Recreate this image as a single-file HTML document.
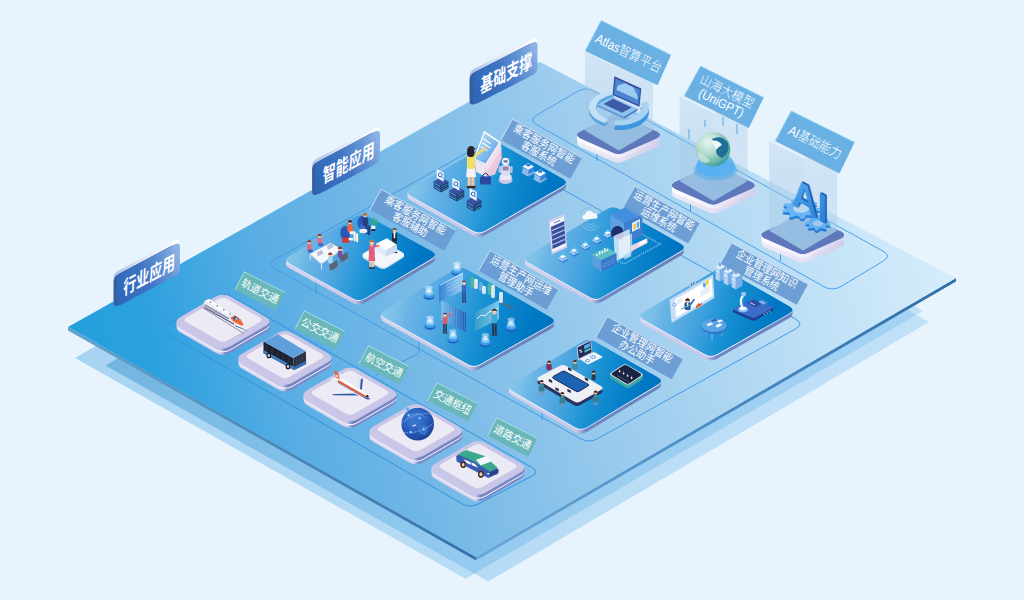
<!DOCTYPE html>
<html lang="zh"><head><meta charset="utf-8"><title>智能应用架构</title>
<style>
html,body{margin:0;padding:0;background:#e7f3fd;}
body{width:1024px;height:600px;overflow:hidden;font-family:"Liberation Sans","Noto Sans CJK SC",sans-serif;}
svg{display:block}
text{font-family:"Liberation Sans","Noto Sans CJK SC",sans-serif;}
</style></head><body>
<svg width="1024" height="600" viewBox="0 0 1024 600">
<defs>

<linearGradient id="gPlat" gradientUnits="userSpaceOnUse" x1="68" y1="380" x2="956" y2="180">
 <stop offset="0" stop-color="#22a0dc"/>
 <stop offset="0.10" stop-color="#2ca1de"/>
 <stop offset="0.23" stop-color="#58ade4"/>
 <stop offset="0.39" stop-color="#78bae7"/>
 <stop offset="0.60" stop-color="#9ecdee"/>
 <stop offset="0.68" stop-color="#aad4f1"/>
 <stop offset="0.89" stop-color="#cbe7f9"/>
 <stop offset="1" stop-color="#d9eefb"/>
</linearGradient>
<linearGradient id="gShadow" gradientUnits="userSpaceOnUse" x1="68" y1="0" x2="956" y2="0">
 <stop offset="0" stop-color="#3a9ee0" stop-opacity="0.37"/>
 <stop offset="0.46" stop-color="#3a9ee0" stop-opacity="0.27"/>
 <stop offset="1" stop-color="#4aa8e8" stop-opacity="0.24"/>
</linearGradient>
<linearGradient id="gShadowB" gradientUnits="userSpaceOnUse" x1="68" y1="0" x2="956" y2="0">
 <stop offset="0" stop-color="#3c94cc" stop-opacity="0.52"/>
 <stop offset="0.46" stop-color="#3a9ee0" stop-opacity="0.28"/>
 <stop offset="1" stop-color="#4aa8e8" stop-opacity="0.24"/>
</linearGradient>
<linearGradient id="gEdge" gradientUnits="userSpaceOnUse" x1="68" y1="0" x2="476" y2="0">
 <stop offset="0" stop-color="#64a2cc"/>
 <stop offset="1" stop-color="#3672aa"/>
</linearGradient>
<linearGradient id="gEdgeR" gradientUnits="userSpaceOnUse" x1="476" y1="0" x2="956" y2="0">
 <stop offset="0" stop-color="#68a8d8"/>
 <stop offset="0.5" stop-color="#4a8cc4"/>
 <stop offset="1" stop-color="#2f6fa8"/>
</linearGradient>
<linearGradient id="gTile" gradientUnits="objectBoundingBox" x1="0" y1="0.5" x2="1" y2="0.5">
 <stop offset="0" stop-color="#6db6ea"/>
 <stop offset="0.45" stop-color="#2f8bd8"/>
 <stop offset="1" stop-color="#0668c2"/>
</linearGradient>
<linearGradient id="gTileSide" gradientUnits="objectBoundingBox" x1="0" y1="0.5" x2="1" y2="0.5">
 <stop offset="0" stop-color="#dcdbf5"/>
 <stop offset="0.46" stop-color="#cbc9ee"/>
 <stop offset="0.54" stop-color="#aaa8df"/>
 <stop offset="1" stop-color="#9d9ad6"/>
</linearGradient>
<linearGradient id="gSec" gradientUnits="objectBoundingBox" x1="0" y1="1" x2="1" y2="0">
 <stop offset="0" stop-color="#3566b8"/>
 <stop offset="0.6" stop-color="#4178c8"/>
 <stop offset="1" stop-color="#6c9ce0"/>
</linearGradient>
<linearGradient id="gGlass" gradientUnits="objectBoundingBox" x1="0" y1="0" x2="0" y2="1">
 <stop offset="0" stop-color="#bfe0f8" stop-opacity="0.15"/>
 <stop offset="0.5" stop-color="#a8d2f2" stop-opacity="0.45"/>
 <stop offset="1" stop-color="#8cc0ec" stop-opacity="0.65"/>
</linearGradient>

<linearGradient id="gIS1" gradientUnits="objectBoundingBox" x1="0" y1="0.5" x2="1" y2="0.5">
 <stop offset="0" stop-color="#dcd9f2"/><stop offset="0.475" stop-color="#d6d3ee"/><stop offset="0.525" stop-color="#7a88c6"/><stop offset="1" stop-color="#7c8ac8"/></linearGradient>
<linearGradient id="gIS2" gradientUnits="objectBoundingBox" x1="0" y1="0.5" x2="1" y2="0.5">
 <stop offset="0" stop-color="#cdcaea"/><stop offset="0.475" stop-color="#c9c6e8"/><stop offset="0.525" stop-color="#7585c4"/><stop offset="1" stop-color="#7787c6"/></linearGradient>
<radialGradient id="gEarth" cx="0.4" cy="0.35" r="0.75"><stop offset="0" stop-color="#3f7fd8"/><stop offset="0.6" stop-color="#2458b4"/><stop offset="1" stop-color="#163c8c"/></radialGradient>
<linearGradient id="gT" gradientUnits="objectBoundingBox" x1="0" y1="0.42" x2="1" y2="0.58"><stop offset="0" stop-color="#86c7eb"/><stop offset="0.09" stop-color="#7bc0e8"/><stop offset="0.16" stop-color="#6ab4e6"/><stop offset="0.3" stop-color="#55aae2"/><stop offset="0.43" stop-color="#3a9fdc"/><stop offset="0.56" stop-color="#1a92d4"/><stop offset="0.65" stop-color="#1089ce"/><stop offset="0.87" stop-color="#0078c4"/><stop offset="1" stop-color="#0072c0"/></linearGradient>
<linearGradient id="gTS0" gradientUnits="objectBoundingBox" x1="0" y1="0.5" x2="1" y2="0.5"><stop offset="0" stop-color="#d6d3ee"/><stop offset="0.460" stop-color="#c9c6e8"/><stop offset="0.520" stop-color="#7088c2"/><stop offset="1" stop-color="#6880bc"/></linearGradient>
<linearGradient id="gTS1" gradientUnits="objectBoundingBox" x1="0" y1="0.5" x2="1" y2="0.5"><stop offset="0" stop-color="#d6d3ee"/><stop offset="0.421" stop-color="#c9c6e8"/><stop offset="0.481" stop-color="#7088c2"/><stop offset="1" stop-color="#6880bc"/></linearGradient>
<linearGradient id="gTS2" gradientUnits="objectBoundingBox" x1="0" y1="0.5" x2="1" y2="0.5"><stop offset="0" stop-color="#d6d3ee"/><stop offset="0.508" stop-color="#c9c6e8"/><stop offset="0.568" stop-color="#7088c2"/><stop offset="1" stop-color="#6880bc"/></linearGradient>
<linearGradient id="gTS3" gradientUnits="objectBoundingBox" x1="0" y1="0.5" x2="1" y2="0.5"><stop offset="0" stop-color="#d6d3ee"/><stop offset="0.417" stop-color="#c9c6e8"/><stop offset="0.477" stop-color="#7088c2"/><stop offset="1" stop-color="#6880bc"/></linearGradient>
<linearGradient id="gTS4" gradientUnits="objectBoundingBox" x1="0" y1="0.5" x2="1" y2="0.5"><stop offset="0" stop-color="#d6d3ee"/><stop offset="0.444" stop-color="#c9c6e8"/><stop offset="0.504" stop-color="#7088c2"/><stop offset="1" stop-color="#6880bc"/></linearGradient>
<linearGradient id="gTS5" gradientUnits="objectBoundingBox" x1="0" y1="0.5" x2="1" y2="0.5"><stop offset="0" stop-color="#d6d3ee"/><stop offset="0.436" stop-color="#c9c6e8"/><stop offset="0.496" stop-color="#7088c2"/><stop offset="1" stop-color="#6880bc"/></linearGradient>
<linearGradient id="gScr" x1="0" y1="0" x2="1" y2="1"><stop offset="0" stop-color="#c4e2f9"/><stop offset="1" stop-color="#4a98e4"/></linearGradient>
<linearGradient id="gHoloA" x1="0" y1="0" x2="1" y2="0"><stop offset="0" stop-color="#2f7fd4" stop-opacity="0.9"/><stop offset="1" stop-color="#a8d8f8" stop-opacity="0.85"/></linearGradient>
<linearGradient id="gHoloB" x1="0" y1="0" x2="1" y2="0"><stop offset="0" stop-color="#7cc0f0" stop-opacity="0.85"/><stop offset="1" stop-color="#1a5ab8" stop-opacity="0.95"/></linearGradient>
<linearGradient id="gHoloC" x1="0" y1="0" x2="1" y2="0"><stop offset="0" stop-color="#3aa0c8" stop-opacity="0.9"/><stop offset="1" stop-color="#8cd0f0" stop-opacity="0.85"/></linearGradient>
<radialGradient id="gGlow"><stop offset="0" stop-color="#ffffff" stop-opacity="0.95"/><stop offset="0.6" stop-color="#e8f6ff" stop-opacity="0.6"/><stop offset="1" stop-color="#cfeaff" stop-opacity="0"/></radialGradient>
<pattern id="pDots" width="2" height="2" patternUnits="userSpaceOnUse"><rect width="2" height="2" fill="#2f7fd8"/><circle cx="1" cy="1" r="0.55" fill="#8cc8f6"/></pattern>

<linearGradient id="gPedSide2" gradientUnits="objectBoundingBox" x1="0" y1="0.5" x2="1" y2="0.5">
 <stop offset="0" stop-color="#efecf8"/>
 <stop offset="0.5" stop-color="#e6e2f3"/>
 <stop offset="1" stop-color="#d2cdea"/>
</linearGradient>
<linearGradient id="gPedSide" gradientUnits="objectBoundingBox" x1="0" y1="0.5" x2="1" y2="0.5">
 <stop offset="0" stop-color="#ffffff"/>
 <stop offset="0.5" stop-color="#f0eefa"/>
 <stop offset="1" stop-color="#d4d0ee"/>
</linearGradient>
<linearGradient id="gGlassL" gradientUnits="objectBoundingBox" x1="0" y1="0" x2="0" y2="1">
 <stop offset="0" stop-color="#a8cae8" stop-opacity="0.28"/>
 <stop offset="0.3" stop-color="#a5c8e6" stop-opacity="0.36"/>
 <stop offset="1" stop-color="#a5c8e6" stop-opacity="0.34"/>
</linearGradient>
<linearGradient id="gGlassR" gradientUnits="objectBoundingBox" x1="0" y1="0" x2="0" y2="1">
 <stop offset="0" stop-color="#a8cae8" stop-opacity="0.2"/>
 <stop offset="0.3" stop-color="#a5c8e6" stop-opacity="0.3"/>
 <stop offset="1" stop-color="#a5c8e6" stop-opacity="0.28"/>
</linearGradient>
<linearGradient id="gGlassB" gradientUnits="objectBoundingBox" x1="0" y1="0" x2="0" y2="1">
 <stop offset="0" stop-color="#a8cae8" stop-opacity="0.06"/>
 <stop offset="1" stop-color="#a5c8e6" stop-opacity="0.12"/>
</linearGradient>

<radialGradient id="gSphere" cx="0.35" cy="0.3" r="0.8">
 <stop offset="0" stop-color="#e8f4ee"/><stop offset="0.4" stop-color="#b4dccc"/><stop offset="0.75" stop-color="#68b6a6"/><stop offset="1" stop-color="#2f8a9c"/>
</radialGradient>
<linearGradient id="gAI" x1="0" y1="0" x2="1" y2="1">
 <stop offset="0" stop-color="#5ab2f0"/><stop offset="1" stop-color="#1f74d0"/>
</linearGradient>
<linearGradient id="gSecTop" gradientUnits="objectBoundingBox" x1="0" y1="0.5" x2="1" y2="0.5">
 <stop offset="0" stop-color="#a9bde6"/><stop offset="0.4" stop-color="#dbe4f6"/><stop offset="1" stop-color="#ffffff"/>
</linearGradient>
<linearGradient id="gSec2" gradientUnits="objectBoundingBox" x1="0" y1="0.6" x2="1" y2="0.4">
 <stop offset="0" stop-color="#2e66b8"/><stop offset="0.45" stop-color="#3f74c4"/><stop offset="0.8" stop-color="#6a98d8"/><stop offset="1" stop-color="#8db3e6"/>
</linearGradient>
</defs>
<rect width="1024" height="600" fill="#e7f3fd"/>
<polygon points="75.0,358.0 532.4,90.2 923.0,311.0 465.6,578.8" fill="url(#gShadow)"/>
<polygon points="105.5,365.5 546.1,105.9 929.0,322.0 488.4,581.6" fill="url(#gShadowB)"/>
<polygon points="68.0,327.0 68.0,330.4 476.0,560.4 476.0,557.0" fill="url(#gEdge)"/>
<polygon points="476.0,557.0 476.0,560.4 956.0,281.4 956.0,278.0" fill="url(#gEdgeR)"/>
<polygon points="68.0,327.0 540.0,62.0 956.0,278.0 476.0,557.0" fill="url(#gPlat)"/>
<path d="M166.9 333.5Q159.1 329.0 167.0 324.6L216.2 296.7Q224.0 292.2 231.8 296.7L532.0 467.5Q539.9 472.0 531.9 476.1L478.0 504.1Q470.0 508.2 462.2 503.8Z" fill="none" stroke="#2f93e0" stroke-width="1" opacity="1"/>
<path d="M275.4 268.9Q266.7 264.0 275.4 259.1L473.3 149.4Q482.0 144.5 490.7 149.4L795.6 319.1Q804.3 324.0 795.6 328.9L597.7 438.6Q589.0 443.5 580.3 438.6Z" fill="none" stroke="#3f9be6" stroke-width="1" opacity="1"/>
<path d="M536.9 124.9Q528.2 120.0 536.9 115.0L577.3 91.5Q586.0 86.5 594.7 91.3L883.1 251.2Q891.8 256.0 883.2 261.1L841.1 286.4Q832.5 291.5 823.8 286.6Z" fill="none" stroke="#4aa2ea" stroke-width="1" opacity="1"/>
<line x1="316" y1="277" x2="316" y2="294" stroke="#3f9be6" stroke-width="1"/>
<line x1="419" y1="340" x2="419" y2="353" stroke="#3f9be6" stroke-width="1"/>
<line x1="419" y1="353" x2="375" y2="376" stroke="#3f9be6" stroke-width="1"/>
<line x1="597" y1="150" x2="597" y2="161" stroke="#3f9be6" stroke-width="1"/>
<line x1="690.5" y1="198" x2="690.5" y2="212" stroke="#3f9be6" stroke-width="1"/>
<line x1="780.5" y1="247" x2="780.5" y2="261" stroke="#3f9be6" stroke-width="1"/>
<line x1="542" y1="412" x2="542" y2="420" stroke="#3f9be6" stroke-width="1"/>
<path d="M180.6 332.5Q172.8 328.0 180.6 323.5L215.2 303.5Q223.0 298.9 230.8 303.5L265.4 323.5Q273.2 328.0 265.4 332.5L230.8 352.5Q223.0 357.1 215.2 352.5Z M176.7 321.5 L269.3 321.5 L269.3 328.0 L176.7 328.0 Z" fill="url(#gIS1)" /><path d="M180.6 326.0Q172.8 321.5 180.6 317.0L215.2 297.0Q223.0 292.4 230.8 297.0L265.4 317.0Q273.2 321.5 265.4 326.0L230.8 346.0Q223.0 350.6 215.2 346.0Z" fill="#c9c6e8" /><path d="M180.6 329.9Q172.8 325.4 180.6 320.9L215.2 300.9Q223.0 296.3 230.8 300.9L265.4 320.9Q273.2 325.4 265.4 329.9L230.8 349.9Q223.0 354.4 215.2 349.9Z" fill="#f8f8fe"/><path d="M180.6 328.9Q172.8 324.4 180.6 319.9L215.2 299.9Q223.0 295.3 230.8 299.9L265.4 319.9Q273.2 324.4 265.4 328.9L230.8 348.9Q223.0 353.4 215.2 348.9Z M176.7 321.5 L269.3 321.5 L269.3 324.4 L176.7 324.4 Z" fill="url(#gIS2)" /><path d="M180.6 326.0Q172.8 321.5 180.6 317.0L215.2 297.0Q223.0 292.4 230.8 297.0L265.4 317.0Q273.2 321.5 265.4 326.0L230.8 346.0Q223.0 350.6 215.2 346.0Z" fill="#c9c6e8" /><path d="M186.7 322.3Q182.3 319.8 186.7 317.3L218.7 299.0Q223.0 296.6 227.3 299.0L259.3 317.3Q263.6 319.8 259.3 322.3L227.3 340.6Q223.0 343.1 218.7 340.6Z" fill="#eceaf4"/>
<path d="M242.6 369.0Q234.8 364.5 242.6 360.0L277.2 340.0Q285.0 335.4 292.8 340.0L327.4 360.0Q335.2 364.5 327.4 369.0L292.8 389.0Q285.0 393.6 277.2 389.0Z M238.7 358.0 L331.3 358.0 L331.3 364.5 L238.7 364.5 Z" fill="url(#gIS1)" /><path d="M242.6 362.5Q234.8 358.0 242.6 353.5L277.2 333.5Q285.0 328.9 292.8 333.5L327.4 353.5Q335.2 358.0 327.4 362.5L292.8 382.5Q285.0 387.1 277.2 382.5Z" fill="#c9c6e8" /><path d="M242.6 366.4Q234.8 361.9 242.6 357.4L277.2 337.4Q285.0 332.8 292.8 337.4L327.4 357.4Q335.2 361.9 327.4 366.4L292.8 386.4Q285.0 390.9 277.2 386.4Z" fill="#f8f8fe"/><path d="M242.6 365.4Q234.8 360.9 242.6 356.4L277.2 336.4Q285.0 331.8 292.8 336.4L327.4 356.4Q335.2 360.9 327.4 365.4L292.8 385.4Q285.0 389.9 277.2 385.4Z M238.7 358.0 L331.3 358.0 L331.3 360.9 L238.7 360.9 Z" fill="url(#gIS2)" /><path d="M242.6 362.5Q234.8 358.0 242.6 353.5L277.2 333.5Q285.0 328.9 292.8 333.5L327.4 353.5Q335.2 358.0 327.4 362.5L292.8 382.5Q285.0 387.1 277.2 382.5Z" fill="#c9c6e8" /><path d="M248.7 358.8Q244.3 356.3 248.7 353.8L280.7 335.5Q285.0 333.1 289.3 335.5L321.3 353.8Q325.6 356.3 321.3 358.8L289.3 377.1Q285.0 379.6 280.7 377.1Z" fill="#eceaf4"/>
<path d="M307.6 405.5Q299.8 401.0 307.6 396.5L342.2 376.5Q350.0 371.9 357.8 376.5L392.4 396.5Q400.2 401.0 392.4 405.5L357.8 425.5Q350.0 430.1 342.2 425.5Z M303.7 394.5 L396.3 394.5 L396.3 401.0 L303.7 401.0 Z" fill="url(#gIS1)" /><path d="M307.6 399.0Q299.8 394.5 307.6 390.0L342.2 370.0Q350.0 365.4 357.8 370.0L392.4 390.0Q400.2 394.5 392.4 399.0L357.8 419.0Q350.0 423.6 342.2 419.0Z" fill="#c9c6e8" /><path d="M307.6 402.9Q299.8 398.4 307.6 393.9L342.2 373.9Q350.0 369.3 357.8 373.9L392.4 393.9Q400.2 398.4 392.4 402.9L357.8 422.9Q350.0 427.4 342.2 422.9Z" fill="#f8f8fe"/><path d="M307.6 401.9Q299.8 397.4 307.6 392.9L342.2 372.9Q350.0 368.3 357.8 372.9L392.4 392.9Q400.2 397.4 392.4 401.9L357.8 421.9Q350.0 426.4 342.2 421.9Z M303.7 394.5 L396.3 394.5 L396.3 397.4 L303.7 397.4 Z" fill="url(#gIS2)" /><path d="M307.6 399.0Q299.8 394.5 307.6 390.0L342.2 370.0Q350.0 365.4 357.8 370.0L392.4 390.0Q400.2 394.5 392.4 399.0L357.8 419.0Q350.0 423.6 342.2 419.0Z" fill="#c9c6e8" /><path d="M313.7 395.3Q309.4 392.8 313.7 390.3L345.7 372.0Q350.0 369.6 354.3 372.0L386.3 390.3Q390.6 392.8 386.3 395.3L354.3 413.6Q350.0 416.1 345.7 413.6Z" fill="#eceaf4"/>
<path d="M373.6 442.0Q365.8 437.5 373.6 433.0L408.2 413.0Q416.0 408.4 423.8 413.0L458.4 433.0Q466.2 437.5 458.4 442.0L423.8 462.0Q416.0 466.6 408.2 462.0Z M369.7 431.0 L462.3 431.0 L462.3 437.5 L369.7 437.5 Z" fill="url(#gIS1)" /><path d="M373.6 435.5Q365.8 431.0 373.6 426.5L408.2 406.5Q416.0 401.9 423.8 406.5L458.4 426.5Q466.2 431.0 458.4 435.5L423.8 455.5Q416.0 460.1 408.2 455.5Z" fill="#c9c6e8" /><path d="M373.6 439.4Q365.8 434.9 373.6 430.4L408.2 410.4Q416.0 405.8 423.8 410.4L458.4 430.4Q466.2 434.9 458.4 439.4L423.8 459.4Q416.0 463.9 408.2 459.4Z" fill="#f8f8fe"/><path d="M373.6 438.4Q365.8 433.9 373.6 429.4L408.2 409.4Q416.0 404.8 423.8 409.4L458.4 429.4Q466.2 433.9 458.4 438.4L423.8 458.4Q416.0 462.9 408.2 458.4Z M369.7 431.0 L462.3 431.0 L462.3 433.9 L369.7 433.9 Z" fill="url(#gIS2)" /><path d="M373.6 435.5Q365.8 431.0 373.6 426.5L408.2 406.5Q416.0 401.9 423.8 406.5L458.4 426.5Q466.2 431.0 458.4 435.5L423.8 455.5Q416.0 460.1 408.2 455.5Z" fill="#c9c6e8" /><path d="M379.7 431.8Q375.4 429.3 379.7 426.8L411.7 408.5Q416.0 406.1 420.3 408.5L452.3 426.8Q456.6 429.3 452.3 431.8L420.3 450.1Q416.0 452.6 411.7 450.1Z" fill="#eceaf4"/>
<path d="M435.6 479.0Q427.8 474.5 435.6 470.0L470.2 450.0Q478.0 445.4 485.8 450.0L520.4 470.0Q528.2 474.5 520.4 479.0L485.8 499.0Q478.0 503.6 470.2 499.0Z M431.7 468.0 L524.3 468.0 L524.3 474.5 L431.7 474.5 Z" fill="url(#gIS1)" /><path d="M435.6 472.5Q427.8 468.0 435.6 463.5L470.2 443.5Q478.0 438.9 485.8 443.5L520.4 463.5Q528.2 468.0 520.4 472.5L485.8 492.5Q478.0 497.1 470.2 492.5Z" fill="#c9c6e8" /><path d="M435.6 476.4Q427.8 471.9 435.6 467.4L470.2 447.4Q478.0 442.8 485.8 447.4L520.4 467.4Q528.2 471.9 520.4 476.4L485.8 496.4Q478.0 500.9 470.2 496.4Z" fill="#f8f8fe"/><path d="M435.6 475.4Q427.8 470.9 435.6 466.4L470.2 446.4Q478.0 441.8 485.8 446.4L520.4 466.4Q528.2 470.9 520.4 475.4L485.8 495.4Q478.0 499.9 470.2 495.4Z M431.7 468.0 L524.3 468.0 L524.3 470.9 L431.7 470.9 Z" fill="url(#gIS2)" /><path d="M435.6 472.5Q427.8 468.0 435.6 463.5L470.2 443.5Q478.0 438.9 485.8 443.5L520.4 463.5Q528.2 468.0 520.4 472.5L485.8 492.5Q478.0 497.1 470.2 492.5Z" fill="#c9c6e8" /><path d="M441.7 468.8Q437.4 466.3 441.7 463.8L473.7 445.5Q478.0 443.1 482.3 445.5L514.3 463.8Q518.6 466.3 514.3 468.8L482.3 487.1Q478.0 489.6 473.7 487.1Z" fill="#eceaf4"/>
<line x1="202.9" y1="307.9" x2="244.2" y2="333.8" stroke="#8f93a2" stroke-width="1.0" /><line x1="205.2" y1="306.7" x2="247.3" y2="331.4" stroke="#8f93a2" stroke-width="1.0" /><polygon points="203.8,302.5 205.7,300.0 209.6,299.0 232.5,314.0 240.0,319.0 243.8,324.0 244.8,327.5 241.8,329.2 235.0,326.7 204.0,308.0" fill="#e6e9f0" /><polygon points="205.2,300.7 209.3,299.2 232.1,314.2 227.9,316.0" fill="#fbfcfe" /><line x1="204.8" y1="304.8" x2="228.8" y2="318.8" stroke="#6f8fba" stroke-width="1.5" /><line x1="204.3" y1="306.5" x2="235.0" y2="324.8" stroke="#e0603a" stroke-width="0.9" /><line x1="204.2" y1="307.6" x2="241.7" y2="328.5" stroke="#2a4e9c" stroke-width="0.9" /><polygon points="230.4,317.7 234.8,315.2 240.4,319.2 243.5,324.2 241.7,326.0 234.0,322.2" fill="#ee6a3a" /><polygon points="232.7,318.0 235.5,316.2 238.7,318.8 236.7,320.7" fill="#274f9e" /><polygon points="234.8,318.5 236.5,317.5 238.0,319.2 236.5,320.2" fill="#8fd0ea" /><polygon points="234.0,322.3 241.7,326.0 244.8,327.5 241.8,329.2 234.2,325.0" fill="#f4f5f9" /><line x1="235.0" y1="325.7" x2="242.9" y2="328.8" stroke="#2a4e9c" stroke-width="0.8" /><rect x="209.7" y="301.7" width="1.4" height="1.2" rx="0" fill="#5e6478"/><rect x="216.6" y="305.4" width="1.4" height="1.2" rx="0" fill="#5e6478"/><rect x="223.1" y="309.2" width="1.4" height="1.2" rx="0" fill="#5e6478"/><rect x="229.3" y="313.4" width="1.4" height="1.2" rx="0" fill="#5e6478"/>
<polygon points="263.5,341.5 293.3,358.1 294.0,370.1 263.5,353.2" fill="#1c2230" /><polygon points="293.3,358.1 305.9,351.3 306.1,364.1 294.0,370.1" fill="#2a3246" /><polygon points="263.5,341.5 277.6,334.3 305.9,351.3 293.3,358.1" fill="#5f9fdc" /><polygon points="263.5,350.0 294.0,366.7 294.0,370.1 263.5,353.2" fill="#3f7fc4" /><polygon points="294.0,366.7 306.1,360.7 306.1,364.1 294.0,370.1" fill="#356cb0" /><line x1="266.5" y1="344.9" x2="266.5" y2="350.4" stroke="#3a4458" stroke-width="0.7" /><line x1="272.0" y1="347.9" x2="272.0" y2="353.4" stroke="#3a4458" stroke-width="0.7" /><line x1="277.4" y1="350.9" x2="277.4" y2="356.4" stroke="#3a4458" stroke-width="0.7" /><line x1="282.9" y1="353.9" x2="282.9" y2="359.4" stroke="#3a4458" stroke-width="0.7" /><line x1="288.4" y1="356.9" x2="288.4" y2="362.4" stroke="#3a4458" stroke-width="0.7" /><ellipse cx="268.8" cy="355.4" rx="2.3" ry="2.9" fill="#15181f"/><ellipse cx="268.8" cy="355.4" rx="1.2" ry="1.6" fill="#c8ccd8"/><ellipse cx="288.0" cy="366.4" rx="2.3" ry="2.9" fill="#15181f"/><ellipse cx="288.0" cy="366.4" rx="1.2" ry="1.6" fill="#c8ccd8"/><circle cx="296.5" cy="358.8" r="0.4" fill="#6a7288"/><circle cx="296.5" cy="360.5" r="0.4" fill="#6a7288"/><circle cx="296.5" cy="362.2" r="0.4" fill="#6a7288"/><circle cx="296.5" cy="363.9" r="0.4" fill="#6a7288"/><circle cx="299.5" cy="357.3" r="0.4" fill="#6a7288"/><circle cx="299.5" cy="359.0" r="0.4" fill="#6a7288"/><circle cx="299.5" cy="360.7" r="0.4" fill="#6a7288"/><circle cx="299.5" cy="362.4" r="0.4" fill="#6a7288"/><circle cx="302.5" cy="355.8" r="0.4" fill="#6a7288"/><circle cx="302.5" cy="357.5" r="0.4" fill="#6a7288"/><circle cx="302.5" cy="359.2" r="0.4" fill="#6a7288"/><circle cx="302.5" cy="360.9" r="0.4" fill="#6a7288"/>
<polygon points="332.1,394.2 352.5,393.2 358.8,395.5 333.3,395.2" fill="#2f57a8" /><polygon points="337.5,380.8 340.4,381.7 369.2,397.9 370.0,399.6 366.7,399.3 338.3,382.9" fill="#2f57a8" /><polygon points="331.0,391.5 343.3,389.8 353.8,391.5 352.9,393.5 332.5,393.0" fill="#eef0f6" /><polygon points="356.0,384.8 359.3,375.7 362.2,377.5 360.5,389.3" fill="#e4e7f0" /><polygon points="360.8,379.2 363.0,378.6 361.8,389.7 360.0,389.3" fill="#2f57a8" /><polygon points="330.2,378.8 335.8,377.3 337.7,380.2 331.7,381.0" fill="#eef0f6" /><polygon points="334.8,375.4 338.3,376.2 364.2,391.7 368.5,395.7 367.9,397.7 364.2,397.1 337.5,381.7" fill="#fafbfd" /><polygon points="337.5,380.5 338.8,380.2 365.0,395.2 366.5,397.1 364.2,397.1 337.5,381.7" fill="#ec5a34" /><polygon points="334.0,370.5 337.7,372.3 339.8,379.3 335.7,377.5" fill="#ee5a32" /><polygon points="335.3,374.3 337.5,375.3 338.3,377.5 336.2,376.7" fill="#fbe4da" /><polygon points="339.8,373.3 341.7,374.2 342.1,378.8 340.4,378.3" fill="#e4e7f0" /><circle cx="367.3" cy="396.2" r="1.2" fill="#1a1e2a"/>
<circle cx="417.7" cy="424.1" r="16.3" fill="url(#gEarth)"/><path d="M408.7 421.1 q4 -5 9 -3 q3 3 0 7 q-3 4 -7 2 q-4 -2 -2 -6Z" fill="#3a74cc" opacity="0.9"/><path d="M419.7 425.1 q5 -2 8 2 q1 5 -3 8 q-5 0 -6 -4 q-1 -4 1 -6Z" fill="#3a74cc" opacity="0.9"/><ellipse cx="417.7" cy="423.1" rx="19" ry="8" fill="none" stroke="#e8f2ff" stroke-width="0.6" stroke-dasharray="1.4 1.2" opacity="0.85" transform="rotate(-18 417.7 424.1)"/><path d="M408.7 417.1 q8 -7 18 1" fill="none" stroke="#e8f2ff" stroke-width="0.6" stroke-dasharray="1.4 1.2" opacity="0.85"/><circle cx="408.7" cy="415.1" r="1.6" fill="#4a9cf0"/><circle cx="408.7" cy="415.1" r="0.7" fill="#ffffff"/><circle cx="419.7" cy="418.1" r="1.6" fill="#4a9cf0"/><circle cx="419.7" cy="418.1" r="0.7" fill="#ffffff"/><circle cx="423.7" cy="429.1" r="1.6" fill="#4a9cf0"/><circle cx="423.7" cy="429.1" r="0.7" fill="#ffffff"/><circle cx="410.7" cy="432.1" r="1.6" fill="#4a9cf0"/><circle cx="410.7" cy="432.1" r="0.7" fill="#ffffff"/><path d="M412.7 425.6 l3.6 -1.4 l-1 1.6 l-2.8 0.8Z" fill="#ffffff"/><path d="M406.7 410.6 a1.7 1.7 0 1 1 2 0 l-1 2 Z" fill="#5ab0f4"/>
<ellipse cx="463.2" cy="464.2" rx="2.7" ry="3.2" fill="#4a2a20"/><ellipse cx="463.2" cy="464.2" rx="1.4" ry="1.8" fill="#e8d8b8"/><ellipse cx="480.9" cy="474.2" rx="2.7" ry="3.2" fill="#4a2a20"/><ellipse cx="480.9" cy="474.2" rx="1.4" ry="1.8" fill="#e8d8b8"/><path d="M456.2 456.0 L463.2 451.4 L486.5 460.2 L498.6 469.6 L498.1 473.8 L488.3 477.9 L456.6 461.6 Z" fill="#3a5cb0"/><path d="M457.6 454.4 L466.0 450.0 L484.6 456.0 L497.7 467.7 L490.0 471.4 L472.5 460.7 Z" fill="#3aa88c"/><polygon points="476.0,459.8 486.5,456.0 491.1,461.6 480.7,465.4" fill="#f4f8fc" /><polygon points="463.2,459.1 474.8,463.7 478.3,467.7 466.7,463.0" fill="#f4f8fc" /><line x1="470.6" y1="461.6" x2="471.8" y2="466.1" stroke="#3a5cb0" stroke-width="0.8" /><polygon points="489.3,472.8 498.1,469.1 498.4,472.4 489.5,476.1" fill="#2a3e80" /><ellipse cx="488.3" cy="473.8" rx="1.2" ry="0.8" fill="#ffffff"/><ellipse cx="463.2" cy="464.8" rx="2.7" ry="3.2" fill="#4a2a20"/><ellipse cx="463.2" cy="464.8" rx="1.4" ry="1.8" fill="#e8d8b8"/><ellipse cx="480.9" cy="474.2" rx="2.9" ry="3.4" fill="#4a2a20"/><ellipse cx="480.9" cy="474.2" rx="1.5" ry="1.9" fill="#e8d8b8"/>
<g transform="translate(260.0 291.2) rotate(27.0)"><rect x="-22.8" y="-10.2" width="45.6" height="20.3" fill="#69b7b8" fill-opacity="1"/><path d="M-22.8 10.2 L-22.8 -10.2 L22.8 -10.2" fill="none" stroke="#a8dede" stroke-width="0.9"/><text x="0" y="4.0" text-anchor="middle" font-size="11" font-weight="400" fill="#fff" textLength="40.5" lengthAdjust="spacingAndGlyphs">轨道交通</text></g>
<g transform="translate(320.0 330.2) rotate(27.0)"><rect x="-22.8" y="-10.2" width="45.6" height="20.3" fill="#69b7b8" fill-opacity="1"/><path d="M-22.8 10.2 L-22.8 -10.2 L22.8 -10.2" fill="none" stroke="#a8dede" stroke-width="0.9"/><text x="0" y="4.0" text-anchor="middle" font-size="11" font-weight="400" fill="#fff" textLength="40.5" lengthAdjust="spacingAndGlyphs">公交交通</text></g>
<g transform="translate(384.0 365.2) rotate(27.0)"><rect x="-22.8" y="-10.2" width="45.6" height="20.3" fill="#69b7b8" fill-opacity="1"/><path d="M-22.8 10.2 L-22.8 -10.2 L22.8 -10.2" fill="none" stroke="#a8dede" stroke-width="0.9"/><text x="0" y="4.0" text-anchor="middle" font-size="11" font-weight="400" fill="#fff" textLength="40.5" lengthAdjust="spacingAndGlyphs">航空交通</text></g>
<g transform="translate(452.5 402.2) rotate(27.0)"><rect x="-22.8" y="-10.2" width="45.6" height="20.3" fill="#69b7b8" fill-opacity="1"/><path d="M-22.8 10.2 L-22.8 -10.2 L22.8 -10.2" fill="none" stroke="#a8dede" stroke-width="0.9"/><text x="0" y="4.0" text-anchor="middle" font-size="11" font-weight="400" fill="#fff" textLength="40.5" lengthAdjust="spacingAndGlyphs">交通枢纽</text></g>
<g transform="translate(512.5 437.2) rotate(27.0)"><rect x="-22.8" y="-10.2" width="45.6" height="20.3" fill="#69b7b8" fill-opacity="1"/><path d="M-22.8 10.2 L-22.8 -10.2 L22.8 -10.2" fill="none" stroke="#a8dede" stroke-width="0.9"/><text x="0" y="4.0" text-anchor="middle" font-size="11" font-weight="400" fill="#fff" textLength="40.5" lengthAdjust="spacingAndGlyphs">道路交通</text></g>
<path d="M289.1 267.9Q283.0 264.5 289.0 260.9L356.0 221.3Q362.0 217.8 368.1 221.1L431.9 256.1Q438.0 259.5 432.0 263.1L365.0 302.7Q359.0 306.2 352.9 302.9Z M286.0 260.0 L435.0 255.0 L435.0 259.5 L286.0 264.5 Z" fill="url(#gTS0)" /><path d="M289.1 263.4Q283.0 260.0 289.0 256.4L356.0 216.8Q362.0 213.2 368.1 216.6L431.9 251.6Q438.0 255.0 432.0 258.6L365.0 298.2Q359.0 301.8 352.9 298.4Z" fill="url(#gT)" /><path d="M289.1 264.3Q283.0 260.9 289.0 257.3L356.0 217.7Q362.0 214.2 368.1 217.5L431.9 252.5Q438.0 255.9 432.0 259.5L365.0 299.1Q359.0 302.6 352.9 299.3Z" fill="#f2f3fc"/><path d="M289.1 263.4Q283.0 260.0 289.0 256.4L356.0 216.8Q362.0 213.2 368.1 216.6L431.9 251.6Q438.0 255.0 432.0 258.6L365.0 298.2Q359.0 301.8 352.9 298.4Z" fill="url(#gT)"/>
<path d="M410.6 200.4Q404.5 197.0 410.6 193.5L488.4 148.7Q494.5 145.2 500.6 148.7L562.9 183.6Q569.0 187.0 562.9 190.5L485.1 235.3Q479.0 238.8 472.9 235.3Z M407.5 192.5 L566.0 182.5 L566.0 187.0 L407.5 197.0 Z" fill="url(#gTS1)" /><path d="M410.6 195.9Q404.5 192.5 410.6 189.0L488.4 144.2Q494.5 140.8 500.6 144.2L562.9 179.1Q569.0 182.5 562.9 186.0L485.1 230.8Q479.0 234.2 472.9 230.8Z" fill="url(#gT)" /><path d="M410.6 196.8Q404.5 193.4 410.6 189.9L488.4 145.1Q494.5 141.7 500.6 145.1L562.9 180.0Q569.0 183.4 562.9 186.9L485.1 231.7Q479.0 235.2 472.9 231.7Z" fill="#f2f3fc"/><path d="M410.6 195.9Q404.5 192.5 410.6 189.0L488.4 144.2Q494.5 140.8 500.6 144.2L562.9 179.1Q569.0 182.5 562.9 186.0L485.1 230.8Q479.0 234.2 472.9 230.8Z" fill="url(#gT)"/>
<path d="M384.1 321.9Q378.0 318.5 384.1 315.0L454.9 274.2Q461.0 270.8 467.1 274.2L550.9 322.0Q557.0 325.5 550.9 328.9L480.1 368.8Q474.0 372.2 467.9 368.8Z M381.0 314.0 L554.0 321.0 L554.0 325.5 L381.0 318.5 Z" fill="url(#gTS2)" /><path d="M384.1 317.4Q378.0 314.0 384.1 310.5L454.9 269.7Q461.0 266.2 467.1 269.7L550.9 317.5Q557.0 321.0 550.9 324.4L480.1 364.3Q474.0 367.8 467.9 364.3Z" fill="url(#gT)" /><path d="M384.1 318.3Q378.0 314.9 384.1 311.4L454.9 270.6Q461.0 267.1 467.1 270.6L550.9 318.4Q557.0 321.9 550.9 325.3L480.1 365.2Q474.0 368.6 467.9 365.2Z" fill="#f2f3fc"/><path d="M384.1 317.4Q378.0 314.0 384.1 310.5L454.9 269.7Q461.0 266.2 467.1 269.7L550.9 317.5Q557.0 321.0 550.9 324.4L480.1 364.3Q474.0 367.8 467.9 364.3Z" fill="url(#gT)"/>
<path d="M528.1 266.9Q522.0 263.5 528.0 260.0L607.0 213.8Q613.0 210.2 619.1 213.7L680.9 248.6Q687.0 252.0 681.0 255.5L602.0 301.7Q596.0 305.2 589.9 301.8Z M525.0 259.0 L684.0 247.5 L684.0 252.0 L525.0 263.5 Z" fill="url(#gTS3)" /><path d="M528.1 262.4Q522.0 259.0 528.0 255.5L607.0 209.3Q613.0 205.8 619.1 209.2L680.9 244.1Q687.0 247.5 681.0 251.0L602.0 297.2Q596.0 300.8 589.9 297.3Z" fill="url(#gT)" /><path d="M528.1 263.3Q522.0 259.9 528.0 256.4L607.0 210.2Q613.0 206.7 619.1 210.1L680.9 245.0Q687.0 248.4 681.0 251.9L602.0 298.1Q596.0 301.6 589.9 298.2Z" fill="#f2f3fc"/><path d="M528.1 262.4Q522.0 259.0 528.0 255.5L607.0 209.3Q613.0 205.8 619.1 209.2L680.9 244.1Q687.0 247.5 681.0 251.0L602.0 297.2Q596.0 300.8 589.9 297.3Z" fill="url(#gT)"/>
<path d="M512.1 395.5Q506.0 392.0 512.0 388.4L583.0 346.3Q589.0 342.8 595.1 346.2L657.9 382.0Q664.0 385.5 658.0 389.1L587.0 431.7Q581.0 435.2 574.9 431.8Z M509.0 387.5 L661.0 381.0 L661.0 385.5 L509.0 392.0 Z" fill="url(#gTS4)" /><path d="M512.1 391.0Q506.0 387.5 512.0 383.9L583.0 341.8Q589.0 338.2 595.1 341.7L657.9 377.5Q664.0 381.0 658.0 384.6L587.0 427.2Q581.0 430.8 574.9 427.3Z" fill="url(#gT)" /><path d="M512.1 391.9Q506.0 388.4 512.0 384.8L583.0 342.7Q589.0 339.1 595.1 342.6L657.9 378.4Q664.0 381.9 658.0 385.5L587.0 428.1Q581.0 431.6 574.9 428.2Z" fill="#f2f3fc"/><path d="M512.1 391.0Q506.0 387.5 512.0 383.9L583.0 341.8Q589.0 338.2 595.1 341.7L657.9 377.5Q664.0 381.0 658.0 384.6L587.0 427.2Q581.0 430.8 574.9 427.3Z" fill="url(#gT)"/>
<path d="M643.1 323.9Q637.0 320.5 643.0 317.0L714.9 275.3Q721.0 271.8 727.1 275.2L789.4 311.0Q795.5 314.5 789.4 317.9L717.1 358.8Q711.0 362.2 704.9 358.8Z M640.0 316.0 L792.5 310.0 L792.5 314.5 L640.0 320.5 Z" fill="url(#gTS5)" /><path d="M643.1 319.4Q637.0 316.0 643.0 312.5L714.9 270.8Q721.0 267.2 727.1 270.7L789.4 306.5Q795.5 310.0 789.4 313.4L717.1 354.3Q711.0 357.8 704.9 354.3Z" fill="url(#gT)" /><path d="M643.1 320.3Q637.0 316.9 643.0 313.4L714.9 271.7Q721.0 268.1 727.1 271.6L789.4 307.4Q795.5 310.9 789.4 314.3L717.1 355.2Q711.0 358.6 704.9 355.2Z" fill="#f2f3fc"/><path d="M643.1 319.4Q637.0 316.0 643.0 312.5L714.9 270.8Q721.0 267.2 727.1 270.7L789.4 306.5Q795.5 310.0 789.4 313.4L717.1 354.3Q711.0 357.8 704.9 354.3Z" fill="url(#gT)"/>
<path d="M364.6 259.2Q360.3 256.6 364.7 254.1L379.0 246.1Q383.3 243.6 387.7 246.0L401.9 253.6Q406.3 255.9 402.1 258.6L387.6 267.6Q383.3 270.3 379.0 267.7Z" fill="#cfdcf0"/><path d="M364.6 257.6Q360.3 255.0 364.7 252.5L379.0 244.5Q383.3 242.0 387.7 244.4L401.9 252.0Q406.3 254.3 402.1 257.0L387.6 266.0Q383.3 268.7 379.0 266.1Z" fill="#f3f7fd"/><rect x="392.3" y="240.9" width="1.9" height="11.2" rx="0.75" fill="#26283a"/><rect x="394.8" y="240.9" width="1.9" height="11.2" rx="0.75" fill="#26283a"/><ellipse cx="393.3" cy="252.4" rx="1.5" ry="0.8" fill="#3a3a4a"/><ellipse cx="396.0" cy="252.4" rx="1.5" ry="0.8" fill="#3a3a4a"/><rect x="392.0" y="232.7" width="5.0" height="9.0" rx="1.5" fill="#26283a"/><rect x="393.5" y="231.4" width="1.9" height="2.1" rx="0" fill="#f3c6a5"/><circle cx="394.5" cy="230.1" r="2.1" fill="#f3c6a5"/><path d="M392.1 230.5 A2.4 2.5 0 0 1 396.9 230.5 Q394.5 228.6 392.1 230.5 Z" fill="#4a2a22"/><rect x="393.7" y="232.2" width="1.6" height="6.0" rx="0" fill="#ffffff"/><polygon points="375.8,243.7 387.0,238.3 397.0,244.7 385.5,250.0" fill="#ffffff" /><polygon points="375.8,243.7 385.5,250.0 385.5,257.0 375.8,250.3" fill="#e3ebf7" /><polygon points="385.5,250.0 397.0,244.7 397.0,251.3 385.5,257.0" fill="#cfdbee" /><rect x="369.4" y="254.7" width="2.2" height="13.1" rx="0.87" fill="#f0c8b0"/><rect x="372.1" y="254.7" width="2.2" height="13.1" rx="0.87" fill="#f0c8b0"/><ellipse cx="370.4" cy="268.0" rx="1.7" ry="1.0" fill="#3a3a4a"/><ellipse cx="373.5" cy="268.0" rx="1.7" ry="1.0" fill="#3a3a4a"/><path d="M369.2 252.4 L374.4 252.4 L375.3 261.1 L368.4 261.1 Z" fill="#e0607c"/><rect x="368.9" y="245.1" width="5.8" height="10.4" rx="1.74" fill="#e0607c"/><path d="M373.9 246.6 L378.9 245.6" stroke="#e0607c" stroke-width="1.9" stroke-linecap="round"/><circle cx="378.9" cy="245.6" r="1.0" fill="#f3c6a5"/><rect x="370.7" y="243.7" width="2.2" height="2.5" rx="0" fill="#f3c6a5"/><circle cx="371.8" cy="242.2" r="2.5" fill="#f3c6a5"/><path d="M369.1 242.7 A2.8 3.0 0 0 1 374.6 242.7 Q371.8 240.4 369.1 242.7 Z" fill="#7a3826"/><polygon points="310.0,253.8 330.3,243.0 342.5,249.3 321.3,263.7" fill="#f4f7fc" /><polygon points="310.0,253.8 321.3,263.7 321.3,264.7 310.0,254.8" fill="#c9d4e8" /><polygon points="321.3,263.7 342.5,249.3 342.5,250.3 321.3,264.7" fill="#b4c2dc" /><line x1="310.3" y1="254.7" x2="310.3" y2="259.7" stroke="#e8eef8" stroke-width="0.9" /><line x1="321.5" y1="264.3" x2="321.5" y2="269.3" stroke="#e8eef8" stroke-width="0.9" /><line x1="342.2" y1="250.0" x2="342.2" y2="255.0" stroke="#e8eef8" stroke-width="0.9" /><polygon points="316.7,252.5 322.0,249.7 323.3,253.7 318.0,256.3" fill="#b8c2d4" /><polygon points="326.7,245.8 332.5,242.7 333.7,246.7 328.0,250.0" fill="#b8c2d4" /><rect x="307.1" y="244.0" width="4.6" height="7.0" rx="1.8" fill="#e8688a"/><rect x="307.8" y="249.5" width="5.0" height="3.0" rx="1" fill="#3a6ac0"/><circle cx="309.3" cy="242.0" r="2.0" fill="#f3c6a5"/><path d="M307.1 242.2 a2.2 2.3 0 0 1 4.4 0 Z" fill="#8a3a28"/><rect x="317.5" y="237.8" width="4.6" height="7.0" rx="1.8" fill="#e8688a"/><rect x="318.2" y="243.3" width="5.0" height="3.0" rx="1" fill="#3a6ac0"/><circle cx="319.7" cy="235.8" r="2.0" fill="#f3c6a5"/><path d="M317.5 236.0 a2.2 2.3 0 0 1 4.4 0 Z" fill="#8a3a28"/><polygon points="329.2,264.7 337.2,260.0 337.8,266.7 330.2,271.3" fill="#5a6478" /><line x1="331.2" y1="269.3" x2="331.2" y2="274.3" stroke="#8a94a8" stroke-width="0.8" /><line x1="337.2" y1="266.3" x2="337.2" y2="272.3" stroke="#8a94a8" stroke-width="0.8" /><polygon points="339.5,256.3 347.5,251.7 348.2,258.3 340.5,263.0" fill="#5a6478" /><line x1="341.5" y1="261.0" x2="341.5" y2="266.0" stroke="#8a94a8" stroke-width="0.8" /><line x1="347.5" y1="258.0" x2="347.5" y2="264.0" stroke="#8a94a8" stroke-width="0.8" /><rect x="328.1" y="256.0" width="4.6" height="7.5" rx="1.8" fill="#a8d4ee"/><circle cx="330.3" cy="254.5" r="2.0" fill="#f3c6a5"/><path d="M328.1 254.7 a2.2 2.3 0 0 1 4.4 0 Z" fill="#8a3a28"/><rect x="337.8" y="250.2" width="4.6" height="7.5" rx="1.8" fill="#7a4aa0"/><circle cx="340.0" cy="248.7" r="2.0" fill="#f3c6a5"/><path d="M337.8 248.9 a2.2 2.3 0 0 1 4.4 0 Z" fill="#8a3a28"/><ellipse cx="363.0" cy="222.7" rx="5.5" ry="7.0" fill="#2a58b8"/><ellipse cx="364.5" cy="226.7" rx="5.0" ry="3.5" fill="#3a6ad0"/><rect x="362.7" y="217.3" width="5.0" height="9.0" rx="2" fill="#26407e"/><rect x="365.5" y="224.3" width="2.2" height="10.0" rx="1" fill="#26407e"/><rect x="368.0" y="225.3" width="2.2" height="10.0" rx="1" fill="#26407e"/><circle cx="365.0" cy="215.3" r="2.1" fill="#f3c6a5"/><path d="M362.7 215.5 a2.3 2.4 0 0 1 4.6 0 Z" fill="#b85a2a"/><ellipse cx="363.3" cy="231.0" rx="4.0" ry="2.2" fill="#f2f6fc"/><ellipse cx="363.3" cy="232.0" rx="1.2" ry="0.8" fill="#c4d0e4"/><rect x="371.3" y="225.3" width="4.0" height="4.5" rx="0.8" fill="#f0f2f8"/><rect x="371.3" y="228.9" width="4.0" height="2.2" rx="0.5" fill="#2a2e40"/><path d="M372.8 225.8 q-3 -5 -2.5 -8 q2 3 2.5 6 q0 -5 1.5 -8 q1 4 0 8 q2 -4 3.5 -5 q-0.5 4 -3 7 Z" fill="#3aa86a"/><ellipse cx="345.3" cy="233.0" rx="5.0" ry="7.0" fill="#2a58b8"/><rect x="347.4" y="224.2" width="5.6" height="8.0" rx="2.2" fill="#f0683a"/><rect x="349.5" y="231.2" width="6.0" height="3.0" rx="1.2" fill="#f4f0ec"/><rect x="353.5" y="232.2" width="2.2" height="9.0" rx="1" fill="#f4f0ec"/><rect x="356.0" y="233.2" width="2.2" height="9.0" rx="1" fill="#f4f0ec"/><circle cx="350.0" cy="222.2" r="2.1" fill="#f3c6a5"/><path d="M347.7 222.4 a2.3 2.4 0 0 1 4.6 0 Z" fill="#2a2a3a"/><rect x="342.3" y="237.8" width="7.5" height="5.0" rx="1.2" fill="#d23a3a"/><path d="M344.0 237.8 q1.5 -3.5 4 0" fill="none" stroke="#8a2020" stroke-width="0.8"/><ellipse cx="350.8" cy="239.2" rx="2.5" ry="1.4" fill="#f2f6fc"/>
<polygon points="474.3,159.9 485.1,165.6 486.2,177.1 476.3,172.1" fill="#efe6f2" /><polygon points="485.1,165.6 500.8,142.6 501.9,157.6 495.0,174.4 486.2,177.1" fill="#e9c9dc" /><polygon points="485.1,165.6 500.8,142.6 501.4,149.9 485.7,172.9" fill="#f3dfea" /><polygon points="473.6,159.5 484.1,130.7 500.8,142.2 485.5,165.6" fill="#ffffff" /><polygon points="475.1,158.9 484.5,133.0 498.9,142.8 485.5,163.7" fill="url(#gScr)" /><line x1="483.2" y1="138.8" x2="490.8" y2="143.8" stroke="#ffffff" stroke-width="1.3" stroke-opacity="0.9" /><line x1="482.0" y1="142.6" x2="490.4" y2="148.0" stroke="#ffffff" stroke-width="1.3" stroke-opacity="0.9" /><line x1="480.9" y1="146.5" x2="487.4" y2="150.7" stroke="#ffffff" stroke-width="1.3" stroke-opacity="0.9" /><rect x="467.6" y="167.7" width="3.1" height="18.9" rx="1.26" fill="#f3c6a5"/><rect x="471.4" y="167.7" width="3.1" height="18.9" rx="1.26" fill="#f3c6a5"/><ellipse cx="469.2" cy="187.2" rx="2.5" ry="1.4" fill="#3a2a2a"/><ellipse cx="473.3" cy="187.2" rx="2.5" ry="1.4" fill="#3a2a2a"/><path d="M467.3 164.4 L474.9 164.4 L476.1 177.0 L466.1 177.0 Z" fill="#f4f2f6"/><rect x="466.9" y="153.9" width="8.4" height="15.1" rx="2.52" fill="#f0de6a"/><path d="M474.0 156.0 L485.0 148.5" stroke="#f0de6a" stroke-width="2.7" stroke-linecap="round"/><circle cx="485.0" cy="148.5" r="1.5" fill="#f3c6a5"/><rect x="469.5" y="151.7" width="3.2" height="3.6" rx="0" fill="#f3c6a5"/><circle cx="471.1" cy="149.6" r="3.6" fill="#f3c6a5"/><path d="M467.1 150.3 A4.0 4.3 0 0 1 475.1 150.3 Q471.1 147.1 467.1 150.3 Z" fill="#23232e"/><rect x="467.1" y="148.5" width="7.2" height="8.5" rx="3" fill="#23232e"/><rect x="480.0" y="176.6" width="11.0" height="8.0" rx="1.5" fill="#27489c"/><path d="M482.3 176.6 q3 -7 6.5 0" fill="none" stroke="#1f3a80" stroke-width="1"/><ellipse cx="505.6" cy="180.0" rx="7.0" ry="4.0" fill="#c9c8e6"/><rect x="499.6" y="174.0" width="12.0" height="6.0" rx="3" fill="#e8e8f6"/><rect x="501.1" y="165.0" width="9.0" height="10.5" rx="2.5" fill="#dcdcf0"/><rect x="502.6" y="166.5" width="6.0" height="4.0" rx="1" fill="#8a8cb8"/><rect x="498.6" y="166.0" width="2.4" height="7.0" rx="1.2" fill="#c4c4e0"/><rect x="510.2" y="166.0" width="2.4" height="7.0" rx="1.2" fill="#c4c4e0"/><circle cx="505.6" cy="161.5" r="3.8" fill="#eeeefa"/><rect x="503.4" y="160.2" width="4.4" height="2.2" rx="1" fill="#6a6ea8"/><polygon points="433.7,188.2 441.1,192.5 441.1,189.3 433.7,185.0" fill="#273c88" /><polygon points="441.1,192.5 448.5,188.2 448.5,185.0 441.1,189.3" fill="#1c2c6c" /><polygon points="433.7,185.0 441.1,189.3 448.5,185.0 441.1,180.8" fill="#3a52a4" /><polygon points="433.7,184.6 441.1,188.9 441.1,185.7 433.7,181.4" fill="#273c88" /><polygon points="441.1,188.9 448.5,184.6 448.5,181.4 441.1,185.7" fill="#1c2c6c" /><polygon points="433.7,181.4 441.1,185.7 448.5,181.4 441.1,177.2" fill="#3a52a4" /><line x1="434.5" y1="187.0" x2="440.3" y2="190.4" stroke="#4ac4b4" stroke-width="0.9" /><line x1="434.5" y1="183.4" x2="440.3" y2="186.8" stroke="#4ac4b4" stroke-width="0.9" /><line x1="441.9" y1="190.8" x2="447.7" y2="187.4" stroke="#3aa89c" stroke-width="0.9" /><line x1="441.9" y1="187.2" x2="447.7" y2="183.8" stroke="#3aa89c" stroke-width="0.9" /><polygon points="436.7,168.7 443.7,172.7 443.7,181.7 436.7,177.7" fill="#f4f7fd" /><circle cx="440.2" cy="174.8" r="1.9" fill="none" stroke="#2a62c4" stroke-width="1"/><line x1="441.4" y1="176.4" x2="442.8" y2="178.2" stroke="#2a62c4" stroke-width="1" /><polygon points="449.4,197.2 456.8,201.5 456.8,198.3 449.4,194.0" fill="#273c88" /><polygon points="456.8,201.5 464.2,197.2 464.2,194.0 456.8,198.3" fill="#1c2c6c" /><polygon points="449.4,194.0 456.8,198.3 464.2,194.0 456.8,189.8" fill="#3a52a4" /><polygon points="449.4,193.6 456.8,197.9 456.8,194.7 449.4,190.4" fill="#273c88" /><polygon points="456.8,197.9 464.2,193.6 464.2,190.4 456.8,194.7" fill="#1c2c6c" /><polygon points="449.4,190.4 456.8,194.7 464.2,190.4 456.8,186.2" fill="#3a52a4" /><line x1="450.2" y1="196.0" x2="456.0" y2="199.4" stroke="#4ac4b4" stroke-width="0.9" /><line x1="450.2" y1="192.4" x2="456.0" y2="195.8" stroke="#4ac4b4" stroke-width="0.9" /><line x1="457.6" y1="199.8" x2="463.4" y2="196.4" stroke="#3aa89c" stroke-width="0.9" /><line x1="457.6" y1="196.2" x2="463.4" y2="192.8" stroke="#3aa89c" stroke-width="0.9" /><polygon points="452.4,177.7 459.4,181.7 459.4,190.7 452.4,186.7" fill="#f4f7fd" /><circle cx="455.9" cy="183.8" r="1.9" fill="none" stroke="#2a62c4" stroke-width="1"/><line x1="457.1" y1="185.4" x2="458.5" y2="187.2" stroke="#2a62c4" stroke-width="1" /><polygon points="466.7,207.4 474.0,211.6 474.0,208.4 466.7,204.2" fill="#273c88" /><polygon points="474.0,211.6 481.4,207.4 481.4,204.2 474.0,208.4" fill="#1c2c6c" /><polygon points="466.7,204.2 474.0,208.4 481.4,204.2 474.0,199.9" fill="#3a52a4" /><polygon points="466.7,203.8 474.0,208.0 474.0,204.8 466.7,200.6" fill="#273c88" /><polygon points="474.0,208.0 481.4,203.8 481.4,200.6 474.0,204.8" fill="#1c2c6c" /><polygon points="466.7,200.6 474.0,204.8 481.4,200.6 474.0,196.3" fill="#3a52a4" /><line x1="467.5" y1="206.2" x2="473.3" y2="209.6" stroke="#4ac4b4" stroke-width="0.9" /><line x1="467.5" y1="202.6" x2="473.3" y2="206.0" stroke="#4ac4b4" stroke-width="0.9" /><line x1="474.9" y1="210.0" x2="480.7" y2="206.6" stroke="#3aa89c" stroke-width="0.9" /><line x1="474.9" y1="206.4" x2="480.7" y2="203.0" stroke="#3aa89c" stroke-width="0.9" /><polygon points="469.7,187.9 476.7,191.9 476.7,200.9 469.7,196.9" fill="#f4f7fd" /><circle cx="473.2" cy="194.0" r="1.9" fill="none" stroke="#2a62c4" stroke-width="1"/><line x1="474.4" y1="195.6" x2="475.8" y2="197.4" stroke="#2a62c4" stroke-width="1" /><polygon points="521.9,173.0 528.4,176.7 528.4,175.1 521.9,171.4" fill="#9cc4ec" /><polygon points="528.4,176.7 534.8,173.0 534.8,171.4 528.4,175.1" fill="#7aaee0" /><polygon points="521.9,171.4 528.4,175.1 534.8,171.4 528.4,167.6" fill="#dcecfa" /><polygon points="522.4,171.4 528.2,174.8 528.2,169.8 522.4,166.4" fill="#5a9ee4" /><polygon points="528.2,174.8 534.1,171.4 534.1,166.4 528.2,169.8" fill="#3a84d8" /><polygon points="522.4,166.4 528.2,169.8 534.1,166.4 528.2,163.0" fill="#eef6fd" /><rect x="526.4" y="163.8" width="4.0" height="2.4" rx="0.8" fill="#2a7ad8"/><line x1="522.9" y1="170.4" x2="528.2" y2="173.4" stroke="#d8ecfb" stroke-width="0.7" /><line x1="522.9" y1="168.8" x2="528.2" y2="171.8" stroke="#d8ecfb" stroke-width="0.7" /><polygon points="533.7,179.5 540.2,183.2 540.2,181.6 533.7,177.9" fill="#9cc4ec" /><polygon points="540.2,183.2 546.7,179.5 546.7,177.9 540.2,181.6" fill="#7aaee0" /><polygon points="533.7,177.9 540.2,181.6 546.7,177.9 540.2,174.1" fill="#dcecfa" /><polygon points="534.2,177.9 540.1,181.3 540.1,176.3 534.2,172.9" fill="#5a9ee4" /><polygon points="540.1,181.3 546.0,177.9 546.0,172.9 540.1,176.3" fill="#3a84d8" /><polygon points="534.2,172.9 540.1,176.3 546.0,172.9 540.1,169.5" fill="#eef6fd" /><rect x="538.2" y="170.3" width="4.0" height="2.4" rx="0.8" fill="#2a7ad8"/><line x1="534.7" y1="176.9" x2="540.0" y2="179.9" stroke="#d8ecfb" stroke-width="0.7" /><line x1="534.7" y1="175.3" x2="540.0" y2="178.3" stroke="#d8ecfb" stroke-width="0.7" />
<path d="M451.6 271.4 L451.6 273.2 A5.4 2.7 0 0 0 462.4 273.2 L462.4 271.4 A5.4 2.7 0 0 1 451.6 271.4 Z" fill="#1f5fc0"/><ellipse cx="457.0" cy="271.4" rx="5.4" ry="2.7" fill="#3a8ee0"/><path d="M452.8 269.4 L452.8 271.4 A4.2 2.1 0 0 0 461.2 271.4 L461.2 269.4 A4.2 2.1 0 0 1 452.8 269.4 Z" fill="#3f9ce8"/><ellipse cx="457.0" cy="269.4" rx="4.2" ry="2.1" fill="#7cc6f6"/><ellipse cx="457.0" cy="266.8" rx="4.4" ry="3.2" fill="url(#gGlow)"/><ellipse cx="457.0" cy="263.5" rx="3.6" ry="1.9" fill="#ffffff" fill-opacity="0.45"/><path d="M423.6 295.4 L423.6 297.2 A5.4 2.7 0 0 0 434.4 297.2 L434.4 295.4 A5.4 2.7 0 0 1 423.6 295.4 Z" fill="#1f5fc0"/><ellipse cx="429.0" cy="295.4" rx="5.4" ry="2.7" fill="#3a8ee0"/><path d="M424.8 293.4 L424.8 295.4 A4.2 2.1 0 0 0 433.2 295.4 L433.2 293.4 A4.2 2.1 0 0 1 424.8 293.4 Z" fill="#3f9ce8"/><ellipse cx="429.0" cy="293.4" rx="4.2" ry="2.1" fill="#7cc6f6"/><ellipse cx="429.0" cy="290.8" rx="4.4" ry="3.2" fill="url(#gGlow)"/><ellipse cx="429.0" cy="287.5" rx="3.6" ry="1.9" fill="#ffffff" fill-opacity="0.45"/><path d="M470.5 278.0 L470.5 287.0 A1.9 1.0 0 0 0 474.3 287.0 L474.3 278.0 A1.9 1.0 0 0 1 470.5 278.0 Z" fill="#4ab89c"/><ellipse cx="472.4" cy="278.0" rx="1.9" ry="1.0" fill="#4ab89c"/><path d="M479.1 283.0 L479.1 290.0 A1.9 1.0 0 0 0 482.9 290.0 L482.9 283.0 A1.9 1.0 0 0 1 479.1 283.0 Z" fill="#5ab0e0"/><ellipse cx="481.0" cy="283.0" rx="1.9" ry="1.0" fill="#5ab0e0"/><path d="M487.7 284.0 L487.7 294.0 A1.9 1.0 0 0 0 491.5 294.0 L491.5 284.0 A1.9 1.0 0 0 1 487.7 284.0 Z" fill="#4ab89c"/><ellipse cx="489.6" cy="284.0" rx="1.9" ry="1.0" fill="#4ab89c"/><path d="M482.1 287.0 L482.1 293.0 A1.9 1.0 0 0 0 485.9 293.0 L485.9 287.0 A1.9 1.0 0 0 1 482.1 287.0 Z" fill="#dfe6f2"/><ellipse cx="484.0" cy="287.0" rx="1.9" ry="1.0" fill="#ffffff"/><path d="M474.1 280.0 L474.1 288.0 A1.9 1.0 0 0 0 477.9 288.0 L477.9 280.0 A1.9 1.0 0 0 1 474.1 280.0 Z" fill="#dfe6f2"/><ellipse cx="476.0" cy="280.0" rx="1.9" ry="1.0" fill="#ffffff"/><path d="M491.1 286.0 L491.1 297.0 A1.9 1.0 0 0 0 494.9 297.0 L494.9 286.0 A1.9 1.0 0 0 1 491.1 286.0 Z" fill="#dfe6f2"/><ellipse cx="493.0" cy="286.0" rx="1.9" ry="1.0" fill="#ffffff"/><path d="M499.1 293.0 L499.1 302.0 A1.9 1.0 0 0 0 502.9 302.0 L502.9 293.0 A1.9 1.0 0 0 1 499.1 293.0 Z" fill="#dfe6f2"/><ellipse cx="501.0" cy="293.0" rx="1.9" ry="1.0" fill="#ffffff"/><line x1="503.0" y1="303.0" x2="513.0" y2="308.6" stroke="#8a5a4a" stroke-width="1.2" /><polygon points="439.0,284.6 463.0,272.2 463.0,290.6 439.0,302.6" fill="url(#gHoloA)" /><line x1="440.0" y1="285.0" x2="462.4" y2="273.4" stroke="#e8f6ff" stroke-width="0.8" stroke-opacity="0.9" /><line x1="447.0" y1="285.0" x2="459.0" y2="279.0" stroke="#d8efff" stroke-width="0.6" stroke-opacity="0.7" /><line x1="447.0" y1="288.2" x2="459.0" y2="282.2" stroke="#d8efff" stroke-width="0.6" stroke-opacity="0.7" /><line x1="447.0" y1="291.4" x2="459.0" y2="285.4" stroke="#d8efff" stroke-width="0.6" stroke-opacity="0.7" /><rect x="462.1" y="291.9" width="1.6" height="9.9" rx="0.66" fill="#2a4a90"/><rect x="464.3" y="291.9" width="1.6" height="9.9" rx="0.66" fill="#2a4a90"/><ellipse cx="462.9" cy="301.9" rx="1.3" ry="0.7" fill="#3a3a4a"/><ellipse cx="465.4" cy="301.9" rx="1.3" ry="0.7" fill="#3a3a4a"/><rect x="461.8" y="284.6" width="4.4" height="7.9" rx="1.3199999999999998" fill="#2f6cc0"/><path d="M465.5 285.7 L461.0 287.7" stroke="#2f6cc0" stroke-width="1.4" stroke-linecap="round"/><circle cx="461.0" cy="287.7" r="0.8" fill="#f3c6a5"/><rect x="463.2" y="283.5" width="1.7" height="1.9" rx="0" fill="#f3c6a5"/><circle cx="464.0" cy="282.4" r="1.9" fill="#f3c6a5"/><path d="M461.9 282.7 A2.1 2.2 0 0 1 466.1 282.7 Q464.0 281.0 461.9 282.7 Z" fill="#2a2a3a"/><polygon points="441.0,300.0 466.0,313.0 466.0,332.0 441.0,319.4" fill="url(#gHoloB)" /><line x1="443.6" y1="301.4" x2="443.6" y2="319.9" stroke="#bfe2fa" stroke-width="0.5" stroke-opacity="0.45" /><line x1="446.2" y1="302.8" x2="446.2" y2="321.3" stroke="#bfe2fa" stroke-width="0.5" stroke-opacity="0.45" /><line x1="448.8" y1="304.1" x2="448.8" y2="322.6" stroke="#bfe2fa" stroke-width="0.5" stroke-opacity="0.45" /><line x1="451.4" y1="305.5" x2="451.4" y2="324.0" stroke="#bfe2fa" stroke-width="0.5" stroke-opacity="0.45" /><line x1="454.0" y1="306.8" x2="454.0" y2="325.3" stroke="#bfe2fa" stroke-width="0.5" stroke-opacity="0.45" /><line x1="456.6" y1="308.2" x2="456.6" y2="326.7" stroke="#bfe2fa" stroke-width="0.5" stroke-opacity="0.45" /><line x1="459.2" y1="309.6" x2="459.2" y2="328.1" stroke="#bfe2fa" stroke-width="0.5" stroke-opacity="0.45" /><line x1="461.8" y1="310.9" x2="461.8" y2="329.4" stroke="#bfe2fa" stroke-width="0.5" stroke-opacity="0.45" /><line x1="464.4" y1="312.3" x2="464.4" y2="330.8" stroke="#bfe2fa" stroke-width="0.5" stroke-opacity="0.45" /><rect x="443.1" y="323.5" width="1.6" height="9.5" rx="0.63" fill="#2a3a5a"/><rect x="445.3" y="323.5" width="1.6" height="9.5" rx="0.63" fill="#2a3a5a"/><ellipse cx="443.9" cy="333.1" rx="1.3" ry="0.7" fill="#3a3a4a"/><ellipse cx="446.4" cy="333.1" rx="1.3" ry="0.7" fill="#3a3a4a"/><rect x="442.9" y="316.6" width="4.2" height="7.6" rx="1.26" fill="#e85a5a"/><path d="M446.5 317.6 L451.5 313.1" stroke="#e85a5a" stroke-width="1.4" stroke-linecap="round"/><circle cx="451.5" cy="313.1" r="0.7" fill="#f3c6a5"/><rect x="444.2" y="315.5" width="1.6" height="1.8" rx="0" fill="#f3c6a5"/><circle cx="445.0" cy="314.5" r="1.8" fill="#f3c6a5"/><path d="M443.0 314.8 A2.0 2.1 0 0 1 447.0 314.8 Q445.0 313.2 443.0 314.8 Z" fill="#2a2a3a"/><polygon points="475.0,312.4 499.0,300.2 499.0,319.0 475.0,331.2" fill="url(#gHoloC)" /><polyline points="477.0,319.0 481.0,315.0 485.0,316.0 490.0,311.0 494.0,312.0 498.0,307.4" fill="none" stroke="#ffffff" stroke-width="0.8"/><rect x="492.1" y="322.7" width="2.0" height="12.2" rx="0.81" fill="#26364e"/><rect x="494.7" y="322.7" width="2.0" height="12.2" rx="0.81" fill="#26364e"/><ellipse cx="493.1" cy="335.1" rx="1.6" ry="0.9" fill="#3a3a4a"/><ellipse cx="496.0" cy="335.1" rx="1.6" ry="0.9" fill="#3a3a4a"/><rect x="491.7" y="313.8" width="5.4" height="9.7" rx="1.6199999999999999" fill="#3aa8d8"/><path d="M496.3 315.1 L490.3 318.1" stroke="#3aa8d8" stroke-width="1.8" stroke-linecap="round"/><circle cx="490.3" cy="318.1" r="0.9" fill="#f3c6a5"/><rect x="493.4" y="312.4" width="2.1" height="2.3" rx="0" fill="#f3c6a5"/><circle cx="494.4" cy="311.0" r="2.3" fill="#f3c6a5"/><path d="M491.8 311.5 A2.6 2.8 0 0 1 497.0 311.5 Q494.4 309.4 491.8 311.5 Z" fill="#2a2a3a"/><path d="M424.6 325.4 L424.6 327.2 A5.4 2.7 0 0 0 435.4 327.2 L435.4 325.4 A5.4 2.7 0 0 1 424.6 325.4 Z" fill="#1f5fc0"/><ellipse cx="430.0" cy="325.4" rx="5.4" ry="2.7" fill="#3a8ee0"/><path d="M425.8 323.4 L425.8 325.4 A4.2 2.1 0 0 0 434.2 325.4 L434.2 323.4 A4.2 2.1 0 0 1 425.8 323.4 Z" fill="#3f9ce8"/><ellipse cx="430.0" cy="323.4" rx="4.2" ry="2.1" fill="#7cc6f6"/><ellipse cx="430.0" cy="320.8" rx="4.4" ry="3.2" fill="url(#gGlow)"/><ellipse cx="430.0" cy="317.5" rx="3.6" ry="1.9" fill="#ffffff" fill-opacity="0.45"/><path d="M447.6 339.0 L447.6 340.8 A5.4 2.7 0 0 0 458.4 340.8 L458.4 339.0 A5.4 2.7 0 0 1 447.6 339.0 Z" fill="#1f5fc0"/><ellipse cx="453.0" cy="339.0" rx="5.4" ry="2.7" fill="#3a8ee0"/><path d="M448.8 337.0 L448.8 339.0 A4.2 2.1 0 0 0 457.2 339.0 L457.2 337.0 A4.2 2.1 0 0 1 448.8 337.0 Z" fill="#3f9ce8"/><ellipse cx="453.0" cy="337.0" rx="4.2" ry="2.1" fill="#7cc6f6"/><ellipse cx="453.0" cy="334.4" rx="4.4" ry="3.2" fill="url(#gGlow)"/><ellipse cx="453.0" cy="331.1" rx="3.6" ry="1.9" fill="#ffffff" fill-opacity="0.45"/><path d="M480.0 342.8 L480.0 344.6 A5.4 2.7 0 0 0 490.8 344.6 L490.8 342.8 A5.4 2.7 0 0 1 480.0 342.8 Z" fill="#1f5fc0"/><ellipse cx="485.4" cy="342.8" rx="5.4" ry="2.7" fill="#3a8ee0"/><path d="M481.2 340.8 L481.2 342.8 A4.2 2.1 0 0 0 489.6 342.8 L489.6 340.8 A4.2 2.1 0 0 1 481.2 340.8 Z" fill="#3f9ce8"/><ellipse cx="485.4" cy="340.8" rx="4.2" ry="2.1" fill="#7cc6f6"/><ellipse cx="485.4" cy="338.2" rx="4.4" ry="3.2" fill="url(#gGlow)"/><ellipse cx="485.4" cy="334.9" rx="3.6" ry="1.9" fill="#ffffff" fill-opacity="0.45"/><path d="M505.6 327.4 L505.6 329.2 A5.4 2.7 0 0 0 516.4 329.2 L516.4 327.4 A5.4 2.7 0 0 1 505.6 327.4 Z" fill="#1f5fc0"/><ellipse cx="511.0" cy="327.4" rx="5.4" ry="2.7" fill="#3a8ee0"/><path d="M506.8 325.4 L506.8 327.4 A4.2 2.1 0 0 0 515.2 327.4 L515.2 325.4 A4.2 2.1 0 0 1 506.8 325.4 Z" fill="#3f9ce8"/><ellipse cx="511.0" cy="325.4" rx="4.2" ry="2.1" fill="#7cc6f6"/><ellipse cx="511.0" cy="322.8" rx="4.4" ry="3.2" fill="url(#gGlow)"/><ellipse cx="511.0" cy="319.5" rx="3.6" ry="1.9" fill="#ffffff" fill-opacity="0.45"/>
<polyline points="638.0,232.0 660.0,244.0 624.0,264.0 614.0,259.0" fill="none" stroke="#9ccdf4" stroke-width="1.6" stroke-dasharray="1.2 1.2" opacity="0.8"/><polygon points="548.6,220.6 564.4,214.0 567.2,247.4 551.6,254.6" fill="#cfcdee" /><polygon points="550.0,222.6 564.0,216.6 566.0,246.0 552.4,252.2" fill="#f2f2fb" /><polygon points="551.0,227.0 564.2,221.0 565.6,243.0 552.6,249.0" fill="#3a4e9e" /><line x1="552.0" y1="230.6" x2="564.8" y2="225.0" stroke="#c8d4f4" stroke-width="1.2" stroke-opacity="0.85" /><line x1="552.0" y1="235.4" x2="564.8" y2="229.8" stroke="#c8d4f4" stroke-width="1.2" stroke-opacity="0.85" /><line x1="552.0" y1="240.2" x2="564.8" y2="234.6" stroke="#c8d4f4" stroke-width="1.2" stroke-opacity="0.85" /><line x1="552.0" y1="245.0" x2="564.8" y2="239.4" stroke="#c8d4f4" stroke-width="1.2" stroke-opacity="0.85" /><line x1="554.0" y1="223.0" x2="560.0" y2="220.4" stroke="#5a6ab8" stroke-width="0.9" /><path d="M584.0 219.5 a2.6 2.6 0 0 1 1.2 -5 a4.2 4.2 0 0 1 8 -1.2 a3.2 3.2 0 0 1 3.4 5.2 Z" fill="#f4f9fe"/><path d="M581.0 214.0 a8 6 0 0 1 10 -6" fill="none" stroke="#7ab8ec" stroke-width="0.8"/><path d="M588.0 223.0 a3.0 1.5 0 0 0 6.0 0" fill="none" stroke="#a8d4f6" stroke-width="0.6" opacity="0.8"/><path d="M585.5 224.5 a5.5 2.8 0 0 0 11.0 0" fill="none" stroke="#a8d4f6" stroke-width="0.6" opacity="0.8"/><path d="M583.0 226.0 a8.0 4.0 0 0 0 16.0 0" fill="none" stroke="#a8d4f6" stroke-width="0.6" opacity="0.8"/><polygon points="603.0,236.5 607.8,239.2 607.8,237.4 603.0,234.7" fill="#4a8edc" /><polygon points="607.8,239.2 612.5,236.5 612.5,234.7 607.8,237.4" fill="#2f74c8" /><polygon points="603.0,234.7 607.8,237.4 612.5,234.7 607.8,231.9" fill="#bfe0f8" /><polygon points="604.6,234.8 607.7,236.6 607.7,234.4 604.6,232.6" fill="#8cc8f4" /><polygon points="607.7,236.6 610.8,234.8 610.8,232.6 607.7,234.4" fill="#5aa8ea" /><polygon points="604.6,232.6 607.7,234.4 610.8,232.6 607.7,230.8" fill="#f4faff" /><circle cx="608.0" cy="230.5" r="1.3" fill="#4ad0e8" fill-opacity="0.9"/><polygon points="592.0,242.1 596.8,244.8 596.8,243.0 592.0,240.3" fill="#4a8edc" /><polygon points="596.8,244.8 601.5,242.1 601.5,240.3 596.8,243.0" fill="#2f74c8" /><polygon points="592.0,240.3 596.8,243.0 601.5,240.3 596.8,237.5" fill="#bfe0f8" /><polygon points="593.6,240.4 596.7,242.2 596.7,240.0 593.6,238.2" fill="#8cc8f4" /><polygon points="596.7,242.2 599.8,240.4 599.8,238.2 596.7,240.0" fill="#5aa8ea" /><polygon points="593.6,238.2 596.7,240.0 599.8,238.2 596.7,236.4" fill="#f4faff" /><circle cx="597.0" cy="236.1" r="1.3" fill="#4ad0e8" fill-opacity="0.9"/><polygon points="580.6,248.1 585.4,250.8 585.4,249.0 580.6,246.3" fill="#4a8edc" /><polygon points="585.4,250.8 590.1,248.1 590.1,246.3 585.4,249.0" fill="#2f74c8" /><polygon points="580.6,246.3 585.4,249.0 590.1,246.3 585.4,243.5" fill="#bfe0f8" /><polygon points="582.2,246.4 585.3,248.2 585.3,246.0 582.2,244.2" fill="#8cc8f4" /><polygon points="585.3,248.2 588.4,246.4 588.4,244.2 585.3,246.0" fill="#5aa8ea" /><polygon points="582.2,244.2 585.3,246.0 588.4,244.2 585.3,242.4" fill="#f4faff" /><circle cx="585.6" cy="242.1" r="1.3" fill="#4ad0e8" fill-opacity="0.9"/><polygon points="569.4,254.1 574.2,256.9 574.2,255.1 569.4,252.3" fill="#4a8edc" /><polygon points="574.2,256.9 578.9,254.1 578.9,252.3 574.2,255.1" fill="#2f74c8" /><polygon points="569.4,252.3 574.2,255.1 578.9,252.3 574.2,249.5" fill="#bfe0f8" /><polygon points="571.0,252.4 574.1,254.2 574.1,252.0 571.0,250.2" fill="#8cc8f4" /><polygon points="574.1,254.2 577.2,252.4 577.2,250.2 574.1,252.0" fill="#5aa8ea" /><polygon points="571.0,250.2 574.1,252.0 577.2,250.2 574.1,248.4" fill="#f4faff" /><circle cx="574.4" cy="248.1" r="1.3" fill="#4ad0e8" fill-opacity="0.9"/><polygon points="558.2,260.3 563.0,263.1 563.0,261.2 558.2,258.5" fill="#4a8edc" /><polygon points="563.0,263.1 567.7,260.3 567.7,258.5 563.0,261.2" fill="#2f74c8" /><polygon points="558.2,258.5 563.0,261.2 567.7,258.5 563.0,255.8" fill="#bfe0f8" /><polygon points="559.8,258.6 562.9,260.4 562.9,258.2 559.8,256.4" fill="#8cc8f4" /><polygon points="562.9,260.4 566.0,258.6 566.0,256.4 562.9,258.2" fill="#5aa8ea" /><polygon points="559.8,256.4 562.9,258.2 566.0,256.4 562.9,254.6" fill="#f4faff" /><circle cx="563.2" cy="254.3" r="1.3" fill="#4ad0e8" fill-opacity="0.9"/><polygon points="610.4,214.6 624.0,223.0 624.0,243.0 610.4,235.0" fill="#5f9fe2" /><polygon points="624.0,223.0 642.4,214.0 642.4,236.0 624.0,243.0" fill="#3f7fd0" /><polygon points="610.4,214.6 628.0,206.0 642.4,214.0 624.0,223.0" fill="url(#pDots)" /><path d="M611.2 231.6 a6.2 7 0 0 1 12.4 3 l0 7.5 l-12.4 -6 Z" fill="#1c2f70"/><polygon points="632.0,223.0 640.0,219.0 640.0,228.0 632.0,232.0" fill="#e6eef8" /><polygon points="633.2,224.6 636.0,223.2 636.0,228.6 633.2,230.0" fill="#f4c84a" /><polygon points="636.8,222.6 639.2,221.4 639.2,227.0 636.8,228.2" fill="#5aa8e8" /><polygon points="613.6,236.0 629.6,229.0 630.4,255.0 614.8,261.4" fill="#e8f4fd" fill-opacity="0.78" /><polygon points="618.4,239.4 632.0,233.4 632.4,252.0 619.2,258.6" fill="#ffffff" fill-opacity="0.55" /><polygon points="630.4,246.0 647.2,238.0 647.6,243.0 631.0,251.4" fill="#f0d4e4" /><polygon points="639.0,242.6 646.4,239.0 646.6,242.0 639.2,245.8" fill="#fdf6fa" /><polygon points="624.0,255.0 631.2,251.8 631.2,256.2 624.4,259.4" fill="#b8d8f4" fill-opacity="0.9" /><polygon points="591.6,254.6 601.0,260.2 602.0,272.0 592.4,265.4" fill="#5a9ede" /><polygon points="601.0,260.2 616.4,253.0 616.8,264.0 602.0,272.0" fill="#3a78cc" /><polygon points="591.6,254.6 607.0,247.4 616.4,253.0 601.0,260.2" fill="#5ec0c4" /><line x1="597.0" y1="256.0" x2="597.0" y2="254.0" stroke="#f4fbff" stroke-width="1.4" /><line x1="599.6" y1="254.8" x2="599.6" y2="251.2" stroke="#f4fbff" stroke-width="1.4" /><line x1="602.2" y1="253.5" x2="602.2" y2="250.9" stroke="#f4fbff" stroke-width="1.4" /><line x1="604.8" y1="252.3" x2="604.8" y2="248.3" stroke="#f4fbff" stroke-width="1.4" /><line x1="607.4" y1="251.0" x2="607.4" y2="249.2" stroke="#f4fbff" stroke-width="1.4" /><circle cx="604.0" cy="264.0" r="0.5" fill="#a8d0f6"/><circle cx="604.0" cy="266.4" r="0.5" fill="#a8d0f6"/><circle cx="606.4" cy="262.9" r="0.5" fill="#a8d0f6"/><circle cx="606.4" cy="265.3" r="0.5" fill="#a8d0f6"/><circle cx="608.8" cy="261.8" r="0.5" fill="#a8d0f6"/><circle cx="608.8" cy="264.2" r="0.5" fill="#a8d0f6"/><circle cx="611.2" cy="260.6" r="0.5" fill="#a8d0f6"/><circle cx="611.2" cy="263.0" r="0.5" fill="#a8d0f6"/><circle cx="613.6" cy="259.5" r="0.5" fill="#a8d0f6"/><circle cx="613.6" cy="261.9" r="0.5" fill="#a8d0f6"/>
<polygon points="579.6,359.0 594.0,352.0 603.0,357.0 588.0,364.6" fill="#f2f7fd" /><ellipse cx="587.6" cy="360.6" rx="2.0" ry="1.2" fill="none" stroke="#3a78c8" stroke-width="1.1" stroke-dasharray="0.9 0.6"/><ellipse cx="593.0" cy="357.0" rx="2.4" ry="1.4" fill="none" stroke="#3a78c8" stroke-width="1.1" stroke-dasharray="0.9 0.6"/><polygon points="576.6,346.6 591.0,339.4 592.4,353.0 578.0,360.2" fill="#c9c9e6" /><polygon points="577.6,347.4 590.4,341.0 591.6,352.2 578.8,358.6" fill="#1f2c58" /><polygon points="584.0,345.8 590.0,342.8 590.4,346.6 584.4,349.6" fill="#5aa8e8" /><polygon points="584.4,350.6 590.4,347.6 590.6,349.8 584.6,352.8" fill="#4ac4b4" /><text x="579.6" y="352.5" font-size="4.5" font-weight="700" fill="#fff" transform="rotate(-26 580.8 351.0)">$</text><rect x="546.4" y="363.6" width="5.2" height="6.5" rx="1.5" fill="#5a3a6a"/><rect x="547.0" y="364.2" width="4.2" height="6.0" rx="1.7" fill="#8a2a5a"/><circle cx="549.0" cy="362.6" r="1.8" fill="#f0c4a4"/><path d="M547.0 362.7 a2 2.1 0 0 1 4 0 Z" fill="#5a2a2a"/><rect x="572.4" y="363.0" width="5.2" height="6.5" rx="1.5" fill="#3a8ea0"/><rect x="573.0" y="363.6" width="4.2" height="6.0" rx="1.7" fill="#3a8ea8"/><circle cx="575.0" cy="362.0" r="1.8" fill="#f0c4a4"/><path d="M573.0 362.1 a2 2.1 0 0 1 4 0 Z" fill="#3a2a2a"/><rect x="591.0" y="373.6" width="5.2" height="6.5" rx="1.5" fill="#5a8a9a"/><rect x="591.6" y="374.2" width="4.2" height="6.0" rx="1.7" fill="#2a3a5a"/><circle cx="593.6" cy="372.6" r="1.8" fill="#f0c4a4"/><path d="M591.6 372.7 a2 2.1 0 0 1 4 0 Z" fill="#3a2a2a"/><path d="M539.0 384.3Q535.6 382.2 539.1 380.3L559.5 369.5Q563.0 367.6 566.5 369.6L600.9 389.6Q604.4 391.6 600.9 393.6L580.5 405.0Q577.0 407.0 573.6 404.9Z" fill="#27345e"/><path d="M539.0 380.7Q535.6 378.6 539.1 376.7L559.5 365.9Q563.0 364.0 566.5 366.0L600.9 386.0Q604.4 388.0 600.9 390.0L580.5 401.4Q577.0 403.4 573.6 401.3Z M553.3 378.4Q551.6 377.4 553.3 376.4L561.9 371.6Q563.6 370.6 565.3 371.6L587.9 384.0Q589.6 385.0 587.9 386.0L579.3 391.2Q577.6 392.2 575.9 391.2Z" fill="#eef0f6" fill-rule="evenodd"/><path d="M553.3 378.4Q551.6 377.4 553.3 376.4L561.9 371.6Q563.6 370.6 565.3 371.6L587.9 384.0Q589.6 385.0 587.9 386.0L579.3 391.2Q577.6 392.2 575.9 391.2Z" fill="#1c63b4"/><path d="M553.3 378.4Q551.6 377.4 553.3 376.4L561.9 371.6Q563.6 370.6 565.3 371.6L587.9 384.0Q589.6 385.0 587.9 386.0L579.3 391.2Q577.6 392.2 575.9 391.2Z" fill="none" stroke="#27345e" stroke-width="1"/><polygon points="568.0,367.2 571.4,368.8 571.4,371.4 568.0,369.8" fill="#2a3248" /><polygon points="584.8,377.2 588.2,378.8 588.2,381.4 584.8,379.8" fill="#2a3248" /><polygon points="548.8,378.8 552.2,380.4 552.2,383.0 548.8,381.4" fill="#2a3248" /><polygon points="567.4,388.8 570.8,390.4 570.8,393.0 567.4,391.4" fill="#2a3248" /><polygon points="555.4,387.2 558.8,388.8 558.8,391.4 555.4,389.8" fill="#2a3248" /><rect x="539.6" y="383.6" width="4.2" height="6.0" rx="1.7" fill="#3a8ea8"/><rect x="538.6" y="386.0" width="6.0" height="5.5" rx="1.6" fill="#3a7e94"/><line x1="539.1" y1="394.5" x2="544.1" y2="392.5" stroke="#8a94a8" stroke-width="0.7" /><line x1="539.1" y1="392.5" x2="544.1" y2="394.5" stroke="#8a94a8" stroke-width="0.7" /><line x1="541.6" y1="391.0" x2="541.6" y2="393.5" stroke="#8a94a8" stroke-width="0.8" /><circle cx="541.6" cy="382.0" r="1.8" fill="#f0c4a4"/><path d="M539.6 382.1 a2 2.1 0 0 1 4 0 Z" fill="#3a2a2a"/><rect x="560.4" y="395.6" width="4.2" height="6.0" rx="1.7" fill="#3a8ea8"/><rect x="559.4" y="398.0" width="6.0" height="5.5" rx="1.6" fill="#3a7e94"/><line x1="559.9" y1="406.5" x2="564.9" y2="404.5" stroke="#8a94a8" stroke-width="0.7" /><line x1="559.9" y1="404.5" x2="564.9" y2="406.5" stroke="#8a94a8" stroke-width="0.7" /><line x1="562.4" y1="403.0" x2="562.4" y2="405.5" stroke="#8a94a8" stroke-width="0.8" /><circle cx="562.4" cy="394.0" r="1.8" fill="#f0c4a4"/><path d="M560.4 394.1 a2 2.1 0 0 1 4 0 Z" fill="#3a2a2a"/><rect x="593.6" y="394.2" width="4.2" height="6.0" rx="1.7" fill="#3a8ea8"/><rect x="592.6" y="396.6" width="6.0" height="5.5" rx="1.6" fill="#3a7e94"/><line x1="593.1" y1="405.1" x2="598.1" y2="403.1" stroke="#8a94a8" stroke-width="0.7" /><line x1="593.1" y1="403.1" x2="598.1" y2="405.1" stroke="#8a94a8" stroke-width="0.7" /><line x1="595.6" y1="401.6" x2="595.6" y2="404.1" stroke="#8a94a8" stroke-width="0.8" /><circle cx="595.6" cy="392.6" r="1.8" fill="#f0c4a4"/><path d="M593.6 392.7 a2 2.1 0 0 1 4 0 Z" fill="#5a2a1a"/><path d="M611.6 379.1Q609.0 377.6 611.5 375.9L622.5 368.7Q625.0 367.0 627.6 368.5L641.4 376.7Q644.0 378.2 641.5 379.9L630.5 387.3Q628.0 389.0 625.4 387.5Z" fill="#3aa8a0"/><path d="M611.6 377.3Q609.0 375.8 611.5 374.1L622.5 366.9Q625.0 365.2 627.6 366.7L641.4 374.9Q644.0 376.4 641.5 378.1L630.5 385.5Q628.0 387.2 625.4 385.7Z M610.0 374.0 L643.0 374.6 L643.0 378.2 L610.0 377.6 Z" fill="#3aa8a0"/><path d="M611.6 375.5Q609.0 374.0 611.5 372.3L622.5 365.1Q625.0 363.4 627.6 364.9L641.4 373.1Q644.0 374.6 641.5 376.3L630.5 383.7Q628.0 385.4 625.4 383.9Z" fill="#d8e4f4"/><path d="M612.7 375.3Q610.6 374.0 612.7 372.6L622.9 365.7Q625.0 364.3 627.2 365.6L640.2 373.3Q642.4 374.6 640.3 376.0L630.1 383.1Q628.0 384.5 625.9 383.2Z" fill="#1a2440"/><circle cx="619.6" cy="371.4" r="0.9" fill="#f4f8ff"/><line x1="619.6" y1="369.2" x2="619.6" y2="370.9" stroke="#c8d4e8" stroke-width="0.5" /><circle cx="623.6" cy="373.6" r="0.9" fill="#f4f8ff"/><line x1="623.6" y1="371.4" x2="623.6" y2="373.1" stroke="#c8d4e8" stroke-width="0.5" /><circle cx="627.6" cy="375.8" r="0.9" fill="#f4f8ff"/><line x1="627.6" y1="373.6" x2="627.6" y2="375.3" stroke="#c8d4e8" stroke-width="0.5" /><circle cx="631.6" cy="378.0" r="0.9" fill="#f4f8ff"/><line x1="631.6" y1="375.8" x2="631.6" y2="377.5" stroke="#c8d4e8" stroke-width="0.5" /><line x1="617.0" y1="375.4" x2="634.0" y2="384.6" stroke="#6a7a9a" stroke-width="0.5" />
<polygon points="715.6,279.0 719.9,281.5 719.9,269.5 715.6,267.0" fill="#b4d4f2" /><polygon points="719.9,281.5 726.4,277.8 726.4,265.8 719.9,269.5" fill="#7aaee6" /><polygon points="715.6,267.0 719.9,269.5 726.4,265.8 722.1,263.2" fill="#e4f0fc" /><rect x="719.2" y="262.5" width="1.6" height="4.0" rx="0.6" fill="#5a8ed8"/><line x1="716.6" y1="271.0" x2="719.2" y2="272.5" stroke="#ffffff" stroke-width="0.7" /><polygon points="723.6,283.0 727.9,285.5 727.9,273.5 723.6,271.0" fill="#b4d4f2" /><polygon points="727.9,285.5 734.4,281.8 734.4,269.8 727.9,273.5" fill="#7aaee6" /><polygon points="723.6,271.0 727.9,273.5 734.4,269.8 730.1,267.2" fill="#e4f0fc" /><rect x="727.2" y="266.5" width="1.6" height="4.0" rx="0.6" fill="#5a8ed8"/><line x1="724.6" y1="275.0" x2="727.2" y2="276.5" stroke="#ffffff" stroke-width="0.7" /><polygon points="731.6,287.0 735.9,289.5 735.9,277.5 731.6,275.0" fill="#b4d4f2" /><polygon points="735.9,289.5 742.4,285.8 742.4,273.8 735.9,277.5" fill="#7aaee6" /><polygon points="731.6,275.0 735.9,277.5 742.4,273.8 738.1,271.2" fill="#e4f0fc" /><rect x="735.2" y="270.5" width="1.6" height="4.0" rx="0.6" fill="#5a8ed8"/><line x1="732.6" y1="279.0" x2="735.2" y2="280.5" stroke="#ffffff" stroke-width="0.7" /><polygon points="669.6,299.4 713.0,274.6 714.4,298.0 671.6,323.0" fill="#cfe4f8" fill-opacity="0.9" /><polygon points="675.0,299.4 711.6,278.6 712.6,296.0 676.0,317.4" fill="#ffffff" /><polygon points="689.0,285.0 696.0,281.0 696.2,283.4 689.2,287.4" fill="#a4c8f0" /><circle cx="691.4" cy="284.2" r="0.7" fill="#2a3a6a"/><circle cx="693.6" cy="283.0" r="0.7" fill="#2a3a6a"/><rect x="684.4" y="302.1" width="6.4" height="8.0" rx="2" fill="#2456a8"/><rect x="686.9" y="302.6" width="1.4" height="4.0" rx="0" fill="#ffffff"/><circle cx="687.6" cy="300.6" r="2.2" fill="#f3c6a5"/><path d="M685.2 300.7 a2.4 2.5 0 0 1 4.8 0 Z" fill="#3a2418"/><line x1="690.4" y1="304.6" x2="694.4" y2="299.1" stroke="#2456a8" stroke-width="1.6" /><polygon points="681.0,308.6 690.0,304.2 690.0,305.4 681.0,309.8" fill="#5ab8a8" /><circle cx="674.4" cy="304.6" r="2.0" fill="#f4f8ff"/><circle cx="674.4" cy="304.6" r="1.5" fill="none" stroke="#3a78c8" stroke-width="0.7"/><ellipse cx="704.4" cy="285.0" rx="1.6" ry="2.6" fill="#5aa8e8"/><ellipse cx="707.4" cy="282.4" rx="1.6" ry="2.6" fill="#f4d03a"/><line x1="700.4" y1="291.4" x2="710.4" y2="285.8" stroke="#b8d0ee" stroke-width="0.6" /><line x1="700.4" y1="293.0" x2="710.4" y2="287.4" stroke="#b8d0ee" stroke-width="0.6" /><line x1="700.4" y1="294.6" x2="710.4" y2="289.0" stroke="#b8d0ee" stroke-width="0.6" /><line x1="700.4" y1="296.2" x2="710.4" y2="290.6" stroke="#b8d0ee" stroke-width="0.6" /><line x1="676.4" y1="301.4" x2="682.4" y2="298.0" stroke="#b8d0ee" stroke-width="0.6" /><line x1="676.4" y1="303.0" x2="682.4" y2="299.6" stroke="#b8d0ee" stroke-width="0.6" /><line x1="676.4" y1="304.6" x2="682.4" y2="301.2" stroke="#b8d0ee" stroke-width="0.6" /><polygon points="696.0,306.6 698.4,303.0 700.0,304.2 701.6,302.2 701.6,305.0 696.0,308.2" fill="#e8503a" /><polygon points="696.0,308.2 701.6,305.0 701.6,305.8 696.0,309.0" fill="#f4b83a" /><path d="M734.2 312.8Q732.4 312.0 734.2 311.0L750.6 302.2Q752.4 301.2 754.2 302.0L771.8 309.2Q773.6 310.0 771.9 311.0L755.3 320.2Q753.6 321.2 751.8 320.4Z" fill="#1f3f94"/><polygon points="732.9,309.4 773.1,307.4 773.1,310.0 732.9,312.0" fill="#1f3f94" /><path d="M734.2 310.2Q732.4 309.4 734.2 308.4L750.6 299.6Q752.4 298.6 754.2 299.4L771.8 306.6Q773.6 307.4 771.9 308.4L755.3 317.6Q753.6 318.6 751.8 317.8Z" fill="#3a6cc8"/><polygon points="747.0,303.0 753.6,299.6 762.0,303.6 755.6,307.4" fill="#2a4ea8" /><polygon points="758.0,302.0 762.4,299.8 768.0,302.6 763.6,305.0" fill="#5a8ee0" /><line x1="750.0" y1="302.6" x2="755.0" y2="305.0" stroke="#d8e8fa" stroke-width="0.9" /><line x1="759.6" y1="301.4" x2="764.4" y2="303.6" stroke="#d8e8fa" stroke-width="0.9" /><line x1="763.6" y1="313.4" x2="765.2" y2="315.2" stroke="#c8d8f0" stroke-width="0.8" /><line x1="766.2" y1="312.0" x2="767.8" y2="313.8" stroke="#c8d8f0" stroke-width="0.8" /><line x1="768.8" y1="310.6" x2="770.4" y2="312.4" stroke="#c8d8f0" stroke-width="0.8" /><ellipse cx="743.0" cy="309.6" rx="5.0" ry="2.6" fill="#8cbcf0"/><ellipse cx="743.0" cy="308.3" rx="3.6" ry="1.9" fill="#f4f9ff"/><path d="M742.5 307.6 q-4 -8 1.5 -13" fill="none" stroke="#f4f9ff" stroke-width="2.2" stroke-linecap="round"/><path d="M743.9 307.6 q-4 -8 1.5 -13" fill="none" stroke="#7ab0ea" stroke-width="0.8"/><rect x="741.4" y="292.1" width="4.4" height="4.0" rx="1" fill="#9cc4f0"/><line x1="706.0" y1="326.4" x2="706.0" y2="336.4" stroke="#6a9ad8" stroke-width="1" /><line x1="722.0" y1="326.4" x2="722.0" y2="336.4" stroke="#6a9ad8" stroke-width="1" /><line x1="712.0" y1="330.4" x2="712.0" y2="340.4" stroke="#8cb8ea" stroke-width="1" /><path d="M701.5 325.4 L701.5 327.4 A12.5 6.6 0 0 0 726.5 327.4 L726.5 325.4 A12.5 6.6 0 0 1 701.5 325.4 Z" fill="#2f74c8"/><ellipse cx="714.0" cy="325.4" rx="12.5" ry="6.6" fill="#5aa2e6"/><polygon points="706.0,324.4 711.0,322.2 713.5,324.0 708.5,326.2" fill="#e8f0fa" /><polygon points="715.0,325.9 720.0,323.2 722.5,324.8 717.5,327.6" fill="#f8fbff" /><polygon points="711.0,320.4 715.0,318.8 717.0,320.2 713.0,321.8" fill="#3a5ea8" /><polygon points="717.0,320.9 721.0,319.4 723.0,320.8 719.0,322.4" fill="#ffffff" />
<g transform="translate(412.8 220.0) rotate(28.8)"><rect x="-42.5" y="-11.7" width="85.0" height="23.5" fill="#6a9cd2" fill-opacity="0.96"/><path d="M-42.5 11.7 L-42.5 -11.7 L42.5 -11.7" fill="none" stroke="#c4dcf4" stroke-width="0.9"/><text x="0" y="-1.7" text-anchor="middle" font-size="11" font-weight="400" fill="#fff" textLength="68.0" lengthAdjust="spacingAndGlyphs">乘客服务网智能</text><text x="0" y="9.1" text-anchor="middle" font-size="11" font-weight="400" fill="#fff" textLength="38.5" lengthAdjust="spacingAndGlyphs">客服辅助</text></g>
<g transform="translate(541.4 148.9) rotate(29.2)"><rect x="-39.7" y="-11.9" width="79.4" height="23.8" fill="#6a9cd2" fill-opacity="0.96"/><path d="M-39.7 11.9 L-39.7 -11.9 L39.7 -11.9" fill="none" stroke="#c4dcf4" stroke-width="0.9"/><text x="0" y="-1.7" text-anchor="middle" font-size="11" font-weight="400" fill="#fff" textLength="68.0" lengthAdjust="spacingAndGlyphs">乘客服务网智能</text><text x="0" y="9.1" text-anchor="middle" font-size="11" font-weight="400" fill="#fff" textLength="38.5" lengthAdjust="spacingAndGlyphs">客服系统</text></g>
<g transform="translate(518.5 280.0) rotate(29.8)"><rect x="-39.2" y="-11.7" width="78.4" height="23.5" fill="#6a9cd2" fill-opacity="0.96"/><path d="M-39.2 11.7 L-39.2 -11.7 L39.2 -11.7" fill="none" stroke="#c4dcf4" stroke-width="0.9"/><text x="0" y="-1.7" text-anchor="middle" font-size="11" font-weight="400" fill="#fff" textLength="68.0" lengthAdjust="spacingAndGlyphs">运营生产网运维</text><text x="0" y="9.1" text-anchor="middle" font-size="11" font-weight="400" fill="#fff" textLength="38.5" lengthAdjust="spacingAndGlyphs">管理助手</text></g>
<g transform="translate(661.5 215.0) rotate(29.3)"><rect x="-37.3" y="-11.9" width="74.5" height="23.7" fill="#6a9cd2" fill-opacity="0.96"/><path d="M-37.3 11.9 L-37.3 -11.9 L37.3 -11.9" fill="none" stroke="#c4dcf4" stroke-width="0.9"/><text x="0" y="-1.7" text-anchor="middle" font-size="11" font-weight="400" fill="#fff" textLength="68.0" lengthAdjust="spacingAndGlyphs">运营生产网智能</text><text x="0" y="9.1" text-anchor="middle" font-size="11" font-weight="400" fill="#fff" textLength="38.5" lengthAdjust="spacingAndGlyphs">运维系统</text></g>
<g transform="translate(639.6 347.9) rotate(29.2)"><rect x="-43.4" y="-11.7" width="86.7" height="23.4" fill="#6a9cd2" fill-opacity="0.96"/><path d="M-43.4 11.7 L-43.4 -11.7 L43.4 -11.7" fill="none" stroke="#c4dcf4" stroke-width="0.9"/><text x="0" y="-1.7" text-anchor="middle" font-size="11" font-weight="400" fill="#fff" textLength="68.0" lengthAdjust="spacingAndGlyphs">企业管理网智能</text><text x="0" y="9.1" text-anchor="middle" font-size="11" font-weight="400" fill="#fff" textLength="38.5" lengthAdjust="spacingAndGlyphs">办公助手</text></g>
<g transform="translate(764.2 273.9) rotate(28.3)"><rect x="-43.5" y="-11.7" width="86.9" height="23.5" fill="#6a9cd2" fill-opacity="0.96"/><path d="M-43.5 11.7 L-43.5 -11.7 L43.5 -11.7" fill="none" stroke="#c4dcf4" stroke-width="0.9"/><text x="0" y="-1.7" text-anchor="middle" font-size="11" font-weight="400" fill="#fff" textLength="68.0" lengthAdjust="spacingAndGlyphs">企业管理网知识</text><text x="0" y="9.1" text-anchor="middle" font-size="11" font-weight="400" fill="#fff" textLength="38.5" lengthAdjust="spacingAndGlyphs">管理系统</text></g>
<path d="M581.9 147.8Q572.7 143.8 581.9 139.8L613.9 125.8Q618.5 123.8 623.1 125.8L655.1 139.8Q664.3 143.8 655.1 147.8L623.1 161.8Q618.5 163.8 613.9 161.8Z M577.3 135.0 L659.7 135.0 L659.7 143.8 L577.3 143.8 Z" fill="url(#gPedSide2)" /><path d="M581.9 139.0Q572.7 135.0 581.9 131.0L613.9 117.0Q618.5 115.0 623.1 117.0L655.1 131.0Q664.3 135.0 655.1 139.0L623.1 153.0Q618.5 155.0 613.9 153.0Z" fill="#5f78bc" /><path d="M581.9 143.2Q572.7 139.2 581.9 135.2L613.9 121.2Q618.5 119.2 623.1 121.2L655.1 135.2Q664.3 139.2 655.1 143.2L623.1 157.2Q618.5 159.2 613.9 157.2Z M577.3 135.0 L659.7 135.0 L659.7 139.2 L577.3 139.2 Z" fill="url(#gPedSide)" /><path d="M581.9 139.0Q572.7 135.0 581.9 131.0L613.9 117.0Q618.5 115.0 623.1 117.0L655.1 131.0Q664.3 135.0 655.1 139.0L623.1 153.0Q618.5 155.0 613.9 153.0Z" fill="#5f78bc" /><path d="M581.9 139.0Q572.7 135.0 581.9 131.0L613.9 117.0Q618.5 115.0 623.1 117.0L655.1 131.0Q664.3 135.0 655.1 139.0L623.1 153.0Q618.5 155.0 613.9 153.0Z" fill="#5f78bc"/>
<polygon points="584.9,130.5 618.9,110.5 652.9,130.5 618.9,150.5" fill="#8fbce0" fill-opacity="0.95"/><polygon points="584.9,130.5 618.9,110.5 652.9,130.5 652.9,51.5 618.9,34.5 584.9,51.5" fill="url(#gGlassB)"/>
<path d="M676.6 198.3Q667.4 194.3 676.6 190.3L708.6 176.3Q713.2 174.3 717.8 176.3L749.8 190.3Q759.0 194.3 749.8 198.3L717.8 212.3Q713.2 214.3 708.6 212.3Z M672.0 185.5 L754.4 185.5 L754.4 194.3 L672.0 194.3 Z" fill="url(#gPedSide2)" /><path d="M676.6 189.5Q667.4 185.5 676.6 181.5L708.6 167.5Q713.2 165.5 717.8 167.5L749.8 181.5Q759.0 185.5 749.8 189.5L717.8 203.5Q713.2 205.5 708.6 203.5Z" fill="#5f78bc" /><path d="M676.6 193.7Q667.4 189.7 676.6 185.7L708.6 171.7Q713.2 169.7 717.8 171.7L749.8 185.7Q759.0 189.7 749.8 193.7L717.8 207.7Q713.2 209.7 708.6 207.7Z M672.0 185.5 L754.4 185.5 L754.4 189.7 L672.0 189.7 Z" fill="url(#gPedSide)" /><path d="M676.6 189.5Q667.4 185.5 676.6 181.5L708.6 167.5Q713.2 165.5 717.8 167.5L749.8 181.5Q759.0 185.5 749.8 189.5L717.8 203.5Q713.2 205.5 708.6 203.5Z" fill="#5f78bc" /><path d="M676.6 189.5Q667.4 185.5 676.6 181.5L708.6 167.5Q713.2 165.5 717.8 167.5L749.8 181.5Q759.0 185.5 749.8 189.5L717.8 203.5Q713.2 205.5 708.6 203.5Z" fill="#5f78bc"/>
<polygon points="679.6,181.0 713.6,161.0 747.6,181.0 713.6,201.0" fill="#8fbce0" fill-opacity="0.95"/><polygon points="679.6,181.0 713.6,161.0 747.6,181.0 747.6,96.5 713.6,79.5 679.6,96.5" fill="url(#gGlassB)"/>
<path d="M766.2 247.8Q757.0 243.8 766.2 239.8L798.2 225.8Q802.8 223.8 807.4 225.8L839.4 239.8Q848.6 243.8 839.4 247.8L807.4 261.8Q802.8 263.8 798.2 261.8Z M761.6 235.0 L844.0 235.0 L844.0 243.8 L761.6 243.8 Z" fill="url(#gPedSide2)" /><path d="M766.2 239.0Q757.0 235.0 766.2 231.0L798.2 217.0Q802.8 215.0 807.4 217.0L839.4 231.0Q848.6 235.0 839.4 239.0L807.4 253.0Q802.8 255.0 798.2 253.0Z" fill="#5f78bc" /><path d="M766.2 243.2Q757.0 239.2 766.2 235.2L798.2 221.2Q802.8 219.2 807.4 221.2L839.4 235.2Q848.6 239.2 839.4 243.2L807.4 257.2Q802.8 259.2 798.2 257.2Z M761.6 235.0 L844.0 235.0 L844.0 239.2 L761.6 239.2 Z" fill="url(#gPedSide)" /><path d="M766.2 239.0Q757.0 235.0 766.2 231.0L798.2 217.0Q802.8 215.0 807.4 217.0L839.4 231.0Q848.6 235.0 839.4 239.0L807.4 253.0Q802.8 255.0 798.2 253.0Z" fill="#5f78bc" /><path d="M766.2 239.0Q757.0 235.0 766.2 231.0L798.2 217.0Q802.8 215.0 807.4 217.0L839.4 231.0Q848.6 235.0 839.4 239.0L807.4 253.0Q802.8 255.0 798.2 253.0Z" fill="#5f78bc"/>
<polygon points="769.2,230.5 803.2,210.5 837.2,230.5 803.2,250.5" fill="#8fbce0" fill-opacity="0.95"/><polygon points="769.2,230.5 803.2,210.5 837.2,230.5 837.2,141.5 803.2,124.5 769.2,141.5" fill="url(#gGlassB)"/>
<polygon points="584.9,130.5 618.9,150.5 618.9,68.5 584.9,51.5" fill="url(#gGlassL)"/><polygon points="618.9,150.5 652.9,130.5 652.9,51.5 618.9,68.5" fill="url(#gGlassR)"/>
<polygon points="679.6,181.0 713.6,201.0 713.6,113.5 679.6,96.5" fill="url(#gGlassL)"/><polygon points="713.6,201.0 747.6,181.0 747.6,96.5 713.6,113.5" fill="url(#gGlassR)"/>
<polygon points="769.2,230.5 803.2,250.5 803.2,158.5 769.2,141.5" fill="url(#gGlassL)"/><polygon points="803.2,250.5 837.2,230.5 837.2,141.5 803.2,158.5" fill="url(#gGlassR)"/>
<g><path d="M604.9 126.5 A30.0 17.5 0 0 1 612.8 93.9 L614.2 97.9 A23.0 13.4 0 0 0 608.2 122.8 Z" fill="#5da6e4"/><path d="M604.9 123.0 A30.0 17.5 0 0 1 612.8 90.4 L614.2 94.4 A23.0 13.4 0 0 0 608.2 119.3 Z" fill="#c4e0f7"/><path d="M647.2 106.5 A30.0 17.5 0 0 1 613.8 129.7 L615.1 125.4 A22.5 13.1 0 0 0 640.1 108.0 Z" fill="#3f94e0"/><path d="M647.2 101.5 A30.0 17.5 0 0 1 613.8 124.7 L615.1 120.4 A22.5 13.1 0 0 0 640.1 103.0 Z" fill="#a9d3f3"/><polygon points="597.3,104.7 612,96.7 637.5,108.7 624,116.7" fill="#8fc1ee"/><polygon points="597.3,104.7 624,116.7 624,118.6 597.3,106.6" fill="#5a92d4"/><polygon points="624,116.7 637.5,108.7 637.5,110.6 624,118.6" fill="#3d76c0"/><polygon points="603.5,104 613,98.8 631.5,107.6 622,112.8" fill="#3c5ca8"/><polygon points="612.6,95 614.4,76.3 641.3,88.6 639.5,106.7" fill="#3a4a9c"/><polygon points="614,94.2 615.6,78.6 640,89.8 638.4,104.8" fill="#4a84d4"/><path d="M616.5 90 Q617 84 622 84.5 Q625 81.5 629 85.5 Q634 86 635.5 92 Q638 95 637.5 99.5 L616.5 90 Z" fill="#a9d2f4" opacity="0.9"/></g>
<g><ellipse cx="715.5" cy="170" rx="22" ry="10.5" fill="#4aa6ee" opacity="0.45"/><path d="M696 168 Q697 153 715.5 152 Q734 153 735 168 A19.5 8.6 0 0 1 696 168 Z" fill="#56b0f2" opacity="0.9"/><path d="M699 162 Q702 154 715.5 153.5 Q729 154 732 162 A16.5 6 0 0 0 699 162 Z" fill="#8fd0f8" opacity="0.8"/><circle cx="713" cy="149.3" r="17.3" fill="url(#gSphere)"/><path d="M712 139 Q722 134 728 143 Q731 152 722 158 Q716 156 716 150 Q715 143 712 139Z" fill="#1f6f98"/><path d="M711 141 Q718 139 722 145 Q718 147 716 150 Q714 144 711 141Z" fill="#eef8f6"/><path d="M697 152 Q705 154 710 161 Q703 166 698 158 Z" fill="#e4f2ec" opacity="0.55"/><line x1="689" y1="129" x2="689" y2="139" stroke="#4fa8e8" stroke-width="1.2" opacity="0.8"/><line x1="705" y1="120" x2="705" y2="127" stroke="#4fa8e8" stroke-width="1.2" opacity="0.8"/><line x1="723" y1="117" x2="723" y2="126" stroke="#4fa8e8" stroke-width="1.2" opacity="0.8"/><line x1="737" y1="124" x2="737" y2="134" stroke="#4fa8e8" stroke-width="1.2" opacity="0.8"/></g>
<g><path d="M820.0 211.1L819.7 212.9L814.2 213.7L813.2 214.9L815.6 217.7L813.2 218.9L808.0 217.6L805.8 218.2L804.3 221.1L801.0 221.3L798.6 218.5L796.2 218.2L791.5 219.9L788.8 218.9L790.2 216.0L788.8 214.9L783.1 214.6L782.3 212.9L786.9 211.1L787.2 209.8L783.1 207.6L784.5 206.0L790.2 206.2L792.0 205.3L791.5 202.3L794.5 201.5L798.6 203.7L801.0 203.6L804.3 201.1L807.5 201.5L808.0 204.6L810.0 205.3L815.6 204.5L817.5 206.0L814.2 208.5L814.8 209.8Z" fill="#2a80da"/><path d="M820.0 208.5L819.7 210.3L814.2 211.1L813.2 212.3L815.6 215.1L813.2 216.3L808.0 215.0L805.8 215.6L804.3 218.5L801.0 218.7L798.6 215.9L796.2 215.6L791.5 217.3L788.8 216.3L790.2 213.4L788.8 212.3L783.1 212.0L782.3 210.3L786.9 208.5L787.2 207.2L783.1 205.0L784.5 203.4L790.2 203.6L792.0 202.7L791.5 199.7L794.5 198.9L798.6 201.1L801.0 201.0L804.3 198.5L807.5 198.9L808.0 202.0L810.0 202.7L815.6 201.9L817.5 203.4L814.2 205.9L814.8 207.2Z" fill="#6ab6f4"/><ellipse cx="801" cy="208.5" rx="8.0" ry="4.3" fill="#b9d8f2"/><path d="M830.6 225.9L830.4 227.3L826.6 227.9L825.8 228.8L826.9 230.8L825.0 231.7L821.6 230.7L819.8 231.0L818.0 232.9L815.5 232.8L814.4 230.7L812.8 230.2L809.1 230.8L807.5 229.8L809.4 227.9L808.9 226.9L805.4 225.9L805.6 224.5L809.4 223.9L810.2 223.0L809.1 221.0L811.0 220.1L814.4 221.1L816.2 220.8L818.0 218.9L820.5 219.0L821.6 221.1L823.2 221.6L826.9 221.0L828.5 222.0L826.6 223.9L827.1 224.9Z" fill="#2278d4"/><path d="M830.6 223.5L830.4 224.9L826.6 225.5L825.8 226.4L826.9 228.4L825.0 229.3L821.6 228.3L819.8 228.6L818.0 230.5L815.5 230.4L814.4 228.3L812.8 227.8L809.1 228.4L807.5 227.4L809.4 225.5L808.9 224.5L805.4 223.5L805.6 222.1L809.4 221.5L810.2 220.6L809.1 218.6L811.0 217.7L814.4 218.7L816.2 218.4L818.0 216.5L820.5 216.6L821.6 218.7L823.2 219.2L826.9 218.6L828.5 219.6L826.6 221.5L827.1 222.5Z" fill="#62b0f2"/><ellipse cx="818" cy="223.5" rx="5.3" ry="2.9" fill="#a4c6ea"/><g transform="translate(791.5 204.5) skewY(30) scale(0.88 1)"><text x="0" y="0" font-size="41" font-weight="700" fill="url(#gAI)" style="font-family:'Liberation Sans',sans-serif;filter:drop-shadow(1.2px -0.3px 0 #1a5fb8) drop-shadow(1.2px -0.3px 0 #1a5fb8)">AI</text></g></g>
<polygon points="601.2,20.6 671.0,55.1 657.6,85.2 585.2,51.1" fill="#6ab0e2"/>
<path d="M585.2 51.1 L601.2 20.6 L671.0 55.1" fill="none" stroke="#8ad2f4" stroke-width="0.9"/>
<g transform="translate(628.8 53.0) rotate(25.8)"><text x="0" y="4.9" text-anchor="middle" font-size="13.5" font-weight="300" fill="#fff" textLength="72.0" lengthAdjust="spacingAndGlyphs">Atlas智算平台</text></g>
<polygon points="700.5,66.1 763.7,97.6 748.8,128.0 684.2,96.1" fill="#6ab0e2"/>
<path d="M684.2 96.1 L700.5 66.1 L763.7 97.6" fill="none" stroke="#8ad2f4" stroke-width="0.9"/>
<g transform="translate(724.3 96.9) rotate(26.4)"><text x="0" y="-1.7" text-anchor="middle" font-size="13" font-weight="300" fill="#fff" textLength="59.0" lengthAdjust="spacingAndGlyphs">山海大模型</text><text x="0" y="11.1" text-anchor="middle" font-size="13" font-weight="300" fill="#fff" textLength="49.0" lengthAdjust="spacingAndGlyphs">(UniGPT)</text></g>
<polygon points="791.2,111.1 854.6,142.3 839.5,173.5 775.2,141.1" fill="#6ab0e2"/>
<path d="M775.2 141.1 L791.2 111.1 L854.6 142.3" fill="none" stroke="#8ad2f4" stroke-width="0.9"/>
<g transform="translate(815.1 142.0) rotate(26.5)"><text x="0" y="4.9" text-anchor="middle" font-size="13.5" font-weight="300" fill="#fff" textLength="57.5" lengthAdjust="spacingAndGlyphs">AI基础能力</text></g>
<g transform="matrix(1 -0.530 0 1 117.0 307.0)"><rect x="-3.4" y="-35.7" width="66.0" height="32.0" rx="5" fill="url(#gSecTop)"/><rect x="-3.4" y="-32.2" width="63.0" height="31.4" rx="5" fill="#35609f"/><rect x="0" y="-32.0" width="63.0" height="32.0" rx="5" fill="url(#gSec2)"/></g><g transform="matrix(1 -0.530 -0.03 1 149.3 274.9)"><text x="0" y="7.0" text-anchor="middle" font-size="19.5" font-weight="700" fill="#fff" textLength="52" lengthAdjust="spacingAndGlyphs">行业应用</text></g>
<g transform="matrix(1 -0.530 0 1 315.5 196.0)"><rect x="-3.4" y="-36.7" width="67.5" height="33.0" rx="5" fill="url(#gSecTop)"/><rect x="-3.4" y="-33.2" width="64.5" height="32.4" rx="5" fill="#35609f"/><rect x="0" y="-33.0" width="64.5" height="33.0" rx="5" fill="url(#gSec2)"/></g><g transform="matrix(1 -0.530 -0.03 1 348.6 163.0)"><text x="0" y="7.0" text-anchor="middle" font-size="19.5" font-weight="700" fill="#fff" textLength="52" lengthAdjust="spacingAndGlyphs">智能应用</text></g>
<g transform="matrix(1 -0.510 0 1 473.0 105.5)"><rect x="-3.4" y="-36.2" width="67.5" height="32.5" rx="5" fill="url(#gSecTop)"/><rect x="-3.4" y="-32.7" width="64.5" height="31.9" rx="5" fill="#35609f"/><rect x="0" y="-32.5" width="64.5" height="32.5" rx="5" fill="url(#gSec2)"/></g><g transform="matrix(1 -0.510 -0.03 1 506.1 73.4)"><text x="0" y="7.0" text-anchor="middle" font-size="19.5" font-weight="700" fill="#fff" textLength="52" lengthAdjust="spacingAndGlyphs">基础支撑</text></g>
</svg>
</body></html>
